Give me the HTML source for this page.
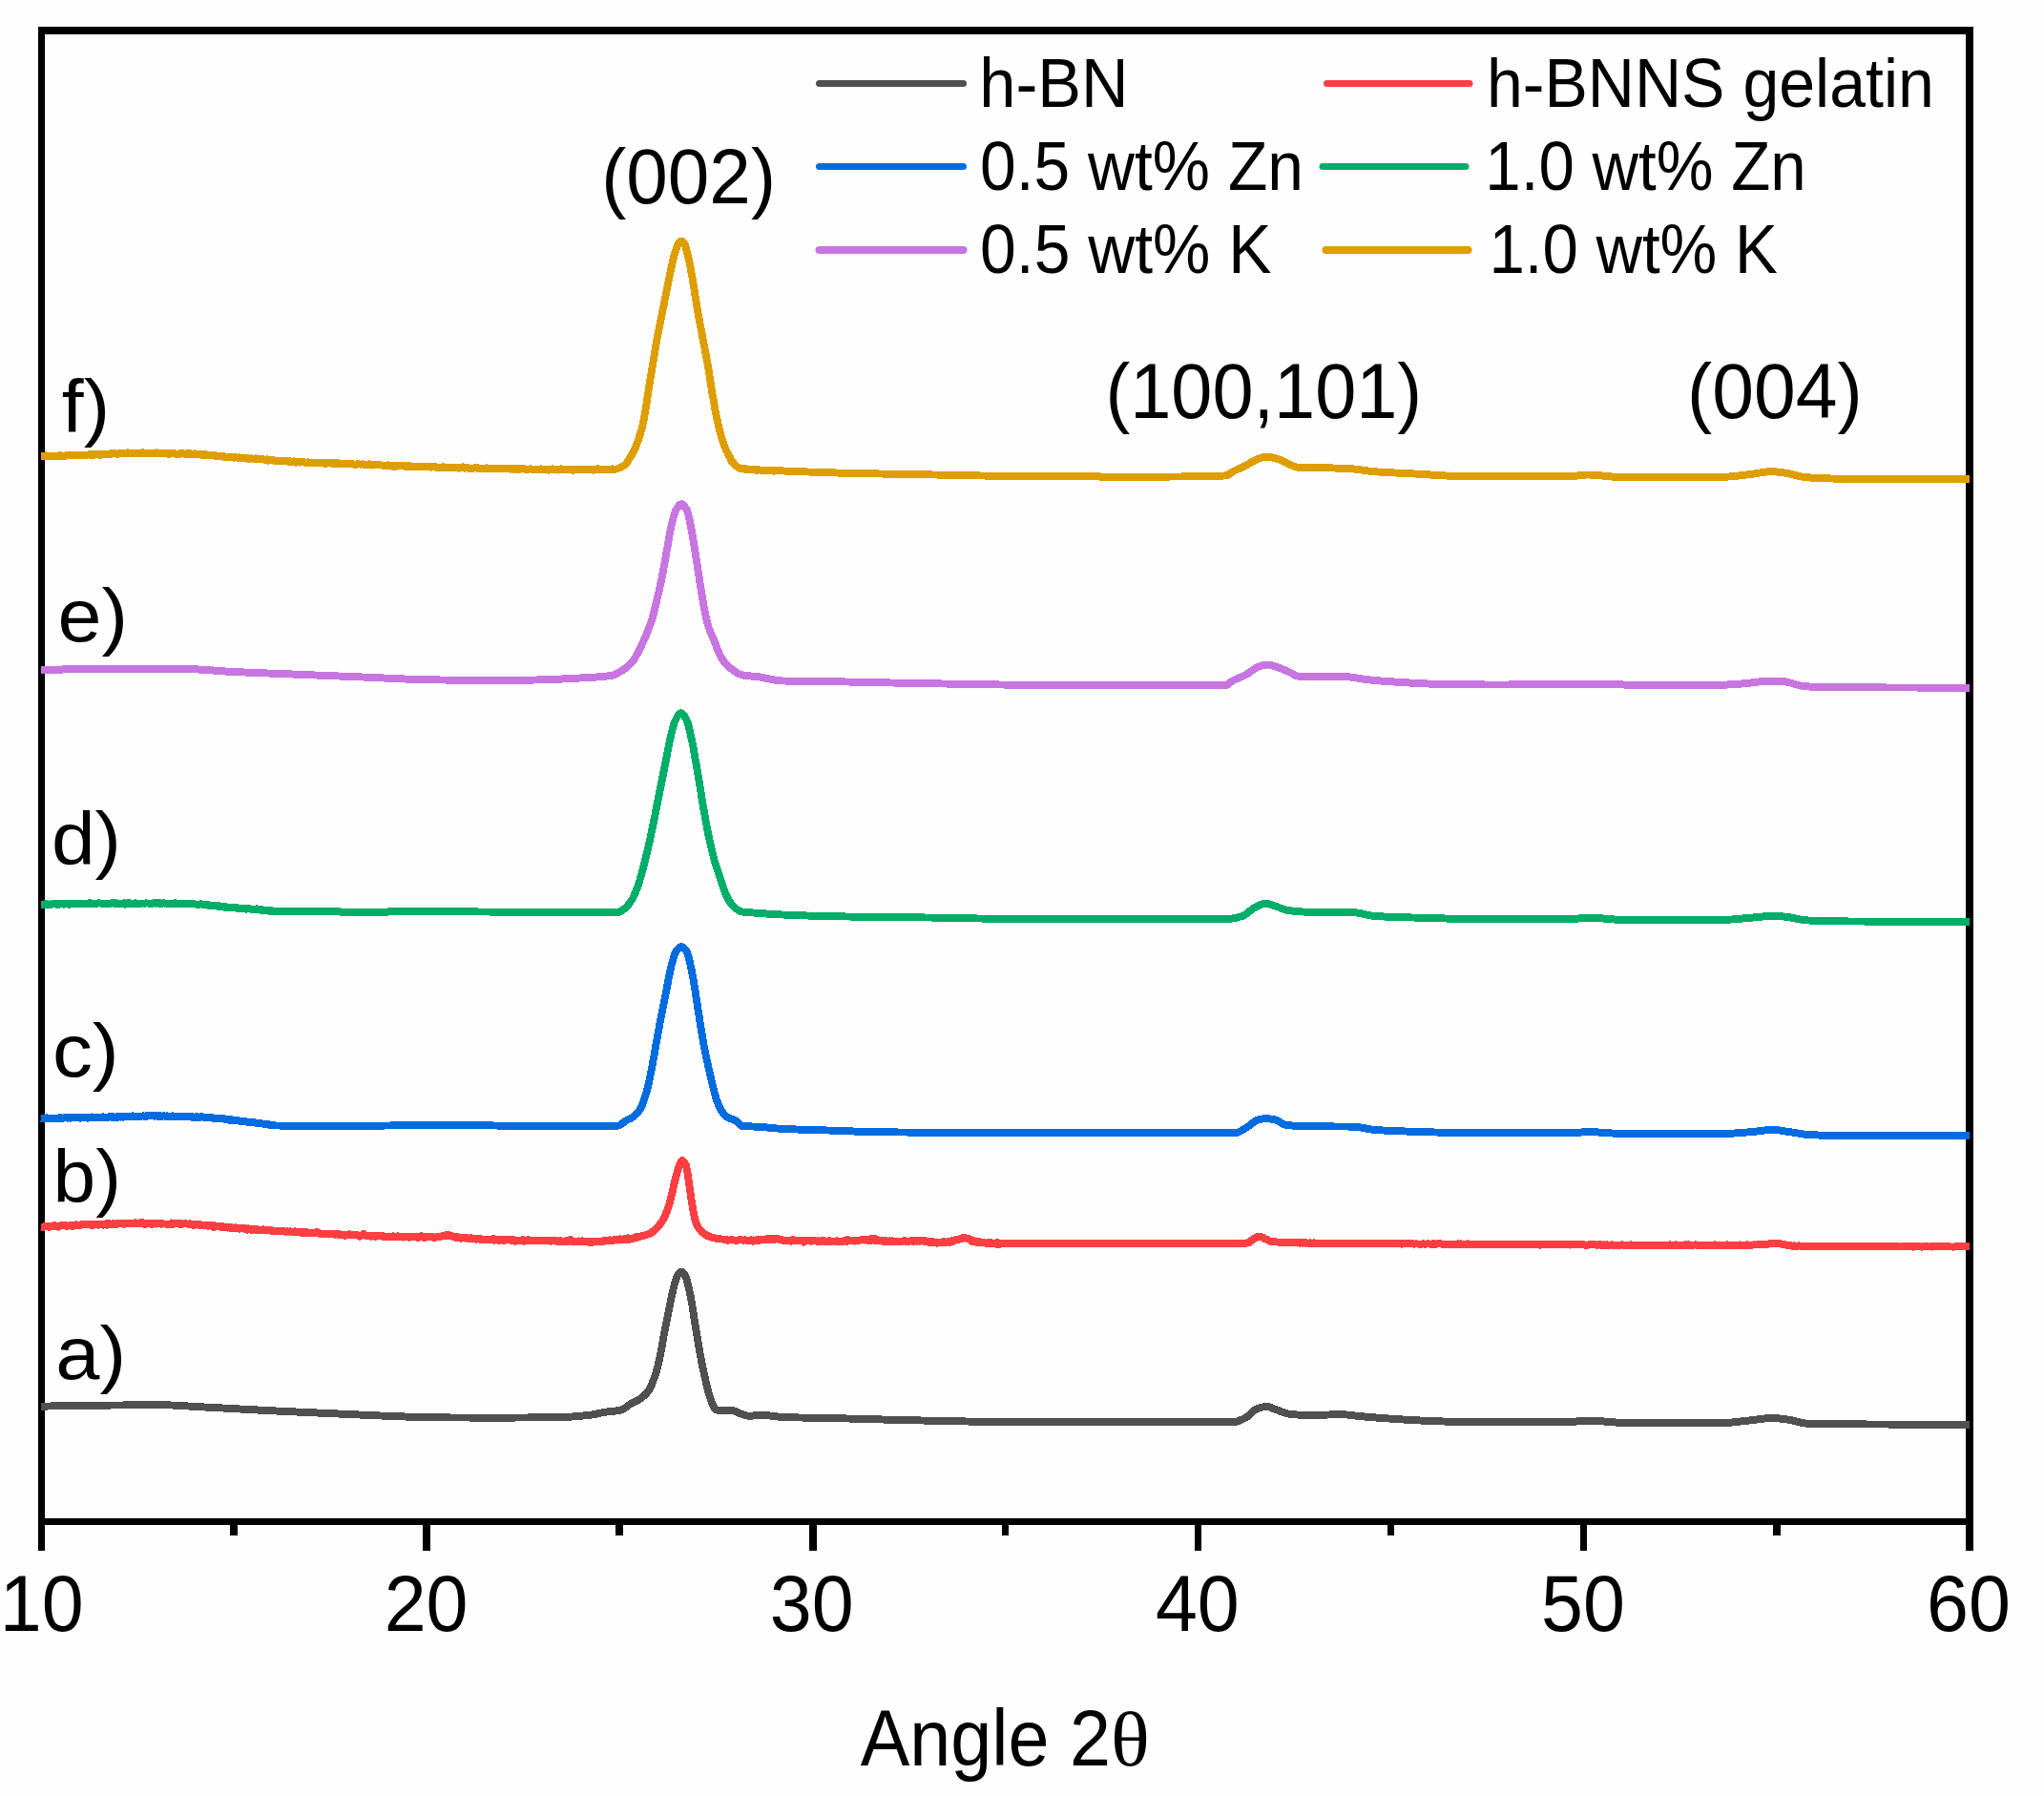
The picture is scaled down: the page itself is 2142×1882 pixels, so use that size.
<!DOCTYPE html>
<html lang="en"><head><meta charset="utf-8"><title>XRD patterns</title>
<style>html,body{margin:0;padding:0;background:#fefefe}body{width:2142px;height:1882px;overflow:hidden}svg{display:block}text{font-family:"Liberation Sans",sans-serif;fill:#000}.sym{font-family:"Liberation Serif",serif}</style></head><body>
<svg width="2142" height="1882" viewBox="0 0 2142 1882">
<rect x="0" y="0" width="2142" height="1882" fill="#fefefe"/>
<g fill="#000">
<rect x="40" y="28" width="7" height="1597"/>
<rect x="2060" y="28" width="8" height="1597"/>
<rect x="40" y="28" width="2028" height="8"/>
<rect x="40" y="1591" width="2028" height="7"/>
<rect x="443" y="1598" width="8" height="27"/>
<rect x="848" y="1598" width="8" height="27"/>
<rect x="1252" y="1598" width="7" height="27"/>
<rect x="1656" y="1598" width="7" height="27"/>
<rect x="241" y="1598" width="8" height="11"/>
<rect x="645" y="1598" width="8" height="11"/>
<rect x="1050" y="1598" width="7" height="11"/>
<rect x="1454" y="1598" width="7" height="11"/>
<rect x="1858" y="1598" width="8" height="11"/>
</g>
<g fill="none" stroke-width="7.9" stroke-linejoin="round" stroke-linecap="butt" shape-rendering="crispEdges">
<path stroke="#505050" d="M43,1473.6l1,0 1,0 1,0 1,0 1,0 1,0 1,-.1 1,0 1,0 1,0 1,-.1 1,0 1,0 1,0 1,0 1,-.1 1,0 1,0 1,0 1,0 1,-.1 1,0 1,0 1,0 1,0 1,-.1 1,0 1,0 1,0 1,0 1,0 1,-.1 1,0 1,0 1,0 1,0 1,-.1 1,0 1,0 1,0 1,0 1,0 1,0 1,-.1 1,0 1,0 1,0 1,0 1,0 1,0 1,-.1 1,0 1,0 1,0 1,0 1,0 1,0 1,0 1,0 1,-.1 1,0 1,0 1,0 1,0 1,0 1,0 1,0 1,0 1,0 1,0 1,0 1,0 1,-.1 1,0 1,0 1,0 1,0 1,0 1,0 1,0 1,0 1,0 1,0 1,0 1,0 1,0 1,-.1 1,0 1,0 1,0 1,0 1,0 1,0 1,0 1,0 1,0 1,0 1,0 1,0 1,0 1,0 1,0 1,0 1,0 1,-.1 1,0 1,0 1,0 1,0 1,0 1,0 1,0 1,0 1,0 1,0 1,0 1,0 1,0 1,0 1,0 1,0 1,0 1,0 1,0 1,0 1,0 1,0 1,0 1,0 1,0 1,0 1,.1 1,0 1,0 1,0 1,.1 1,0 1,0 1,.1 1,0 1,.1 1,0 1,.1 1,0 1,.1 1,0 1,.1 1,.1 1,0 1,.1 1,.1 1,0 1,.1 1,.1 1,0 1,.1 1,0 1,.1 1,.1 1,0 1,.1 1,.1 1,0 1,.1 1,0 1,.1 1,0 1,.1 1,.1 1,0 1,.1 1,0 1,.1 1,0 1,.1 1,0 1,.1 1,0 1,.1 1,0 1,.1 1,0 1,.1 1,0 1,.1 1,.1 1,0 1,.1 1,0 1,.1 1,0 1,.1 1,0 1,.1 1,.1 1,0 1,.1 1,0 1,.1 1,0 1,.1 1,0 1,.1 1,0 1,.1 1,.1 1,0 1,.1 1,0 1,.1 1,0 1,.1 1,0 1,.1 1,.1 1,0 1,.1 1,0 1,.1 1,0 1,.1 1,0 1,.1 1,0 1,.1 1,0 1,.1 1,.1 1,0 1,.1 1,0 1,.1 1,0 1,.1 1,0 1,.1 1,0 1,.1 1,0 1,.1 1,0 1,.1 1,0 1,.1 1,0 1,.1 1,0 1,.1 1,0 1,.1 1,0 1,0 1,.1 1,0 1,.1 1,0 1,.1 1,0 1,.1 1,0 1,.1 1,0 1,.1 1,0 1,.1 1,0 1,.1 1,0 1,.1 1,0 1,0 1,.1 1,0 1,.1 1,0 1,.1 1,0 1,.1 1,0 1,.1 1,0 1,0 1,.1 1,0 1,.1 1,0 1,.1 1,0 1,.1 1,0 1,.1 1,0 1,0 1,.1 1,0 1,.1 1,0 1,.1 1,0 1,.1 1,0 1,.1 1,0 1,0 1,.1 1,0 1,.1 1,0 1,.1 1,0 1,.1 1,0 1,.1 1,0 1,0 1,.1 1,0 1,.1 1,0 1,.1 1,0 1,.1 1,0 1,.1 1,0 1,.1 1,0 1,.1 1,0 1,0 1,.1 1,0 1,.1 1,0 1,.1 1,0 1,.1 1,0 1,.1 1,0 1,0 1,.1 1,0 1,.1 1,0 1,.1 1,0 1,.1 1,0 1,0 1,.1 1,0 1,.1 1,0 1,.1 1,0 1,0 1,.1 1,0 1,.1 1,0 1,0 1,.1 1,0 1,.1 1,0 1,0 1,.1 1,0 1,.1 1,0 1,0 1,.1 1,0 1,0 1,.1 1,0 1,.1 1,0 1,0 1,.1 1,0 1,.1 1,0 1,0 1,.1 1,0 1,.1 1,0 1,0 1,.1 1,0 1,0 1,.1 1,0 1,0 1,.1 1,0 1,0 1,.1 1,0 1,0 1,0 1,0 1,.1 1,0 1,0 1,0 1,0 1,0 1,0 1,0 1,0 1,0 1,.1 1,0 1,0 1,0 1,0 1,0 1,0 1,0 1,0 1,0 1,0 1,0 1,0 1,0 1,.1 1,0 1,0 1,0 1,0 1,0 1,0 1,0 1,0 1,0 1,0 1,0 1,0 1,0 1,0 1,0 1,0 1,0 1,0 1,0 1,0 1,.1 1,0 1,0 1,0 1,0 1,0 1,0 1,0 1,0 1,0 1,0 1,0 1,0 1,0 1,0 1,0 1,0 1,0 1,0 1,0 1,0 1,0 1,0 1,0 1,0 1,0 1,0 1,0 1,0 1,0 1,0 1,0 1,0 1,0 1,0 1,0 1,0 1,0 1,0 1,0 1,0 1,0 1,0 1,0 1,0 1,0 1,0 1,-.1 1,0 1,0 1,0 1,0 1,0 1,0 1,0 1,0 1,0 1,0 1,0 1,0 1,0 1,-.1 1,0 1,0 1,0 1,0 1,0 1,0 1,0 1,0 1,0 1,-.1 1,0 1,0 1,0 1,0 1,0 1,0 1,0 1,-.1 1,0 1,0 1,0 1,0 1,0 1,0 1,-.1 1,0 1,0 1,0 1,0 1,0 1,0 1,-.1 1,0 1,0 1,0 1,0 1,-.1 1,0 1,0 1,-.1 1,0 1,-.1 1,0 1,-.1 1,-.1 1,0 1,-.1 1,-.1 1,-.1 1,0 1,-.1 1,-.1 1,-.1 1,-.1 1,-.1 1,-.1 1,-.1 1,-.1 1,-.1 1,-.1 1,-.1 1,-.1 1,-.2 1,-.1 1,-.1 1,-.1 1,-.1 1,-.2 1,-.2 1,-.2 1,-.2 1,-.2 1,-.3 1,-.2 1,-.2 1,-.2 1,-.2 1,-.2 1,-.2 1,-.1 1,-.2 1,-.1 1,-.1 1,-.1 1,-.1 1,-.1 1,-.1 1,-.1 1,-.1 1,-.1 1,-.1 1,-.2 1,-.1 1,-.2 1,-.2 1,-.2 1,-.2 1,-.4 1,-.5 1,-.6 1,-.7 1,-.7 1,-.8 1,-.7 1,-.7 1,-.7 1,-.6 1,-.5 1,-.5 1,-.6 1,-.4 1,-.6 1,-.5 1,-.5 1,-.6 1,-.6 1,-.6 1,-.8 1,-.7 1,-.8 1,-.9 1,-1 1,-1 1,-1.1 1,-1.2 1,-1.4 1,-1.7 1,-2.1 1,-2.3 1,-2.6 1,-2.6 1,-2.7 1,-3 1,-3.2 1,-3.6 1,-4 1,-4.5 1,-4.9 1,-5.1 1,-5.5 1,-5.8 1,-5.6 1,-5.1 1,-5 1,-4.9 1,-5 1,-5.1 1,-5 1,-4.9 1,-4.7 1,-4.7 1,-4.3 1,-3.7 1,-3.3 1,-3 1,-2.3 1,-1.6 1,-1.2 1,-.9 1,-.4 1,.3 1,1 1,1.4 1,1.6 1,2.3 1,3.4 1,3.9 1,4 1,4.5 1,5 1,5.4 1,6.3 1,6.7 1,6.4 1,6 1,6 1,5.9 1,6.2 1,6.1 1,5.7 1,5.3 1,5 1,4.8 1,4.7 1,4.5 1,4.4 1,4.2 1,3.8 1,3.6 1,3.4 1,3.1 1,2.5 1,2.1 1,2 1,1.8 1,1.3 1,.5 1,0 1,0 1,.1 1,0 1,0 1,0 1,0 1,0 1,0 1,0 1,0 1,0 1,.1 1,0 1,0 1,0 1,.2 1,.2 1,.4 1,.5 1,.5 1,.6 1,.5 1,.4 1,.3 1,.3 1,.4 1,.3 1,.3 1,.3 1,.3 1,.2 1,.1 1,.1 1,0 1,0 1,-.1 1,-.1 1,-.1 1,-.1 1,-.1 1,-.2 1,-.1 1,-.1 1,0 1,-.1 1,0 1,.1 1,0 1,.1 1,0 1,.1 1,.1 1,.1 1,.2 1,.1 1,.1 1,.2 1,.1 1,.1 1,.2 1,.1 1,.1 1,.1 1,.1 1,.1 1,.1 1,.1 1,0 1,.1 1,0 1,0 1,.1 1,0 1,.1 1,0 1,0 1,0 1,.1 1,0 1,0 1,.1 1,0 1,0 1,0 1,.1 1,0 1,0 1,0 1,0 1,.1 1,0 1,0 1,0 1,0 1,.1 1,0 1,0 1,0 1,0 1,0 1,.1 1,0 1,0 1,0 1,0 1,0 1,.1 1,0 1,0 1,0 1,0 1,0 1,.1 1,0 1,0 1,0 1,0 1,0 1,.1 1,0 1,0 1,0 1,.1 1,0 1,0 1,0 1,0 1,.1 1,0 1,0 1,.1 1,0 1,0 1,0 1,.1 1,0 1,0 1,0 1,.1 1,0 1,0 1,0 1,.1 1,0 1,0 1,.1 1,0 1,0 1,0 1,.1 1,0 1,0 1,.1 1,0 1,0 1,0 1,.1 1,0 1,0 1,.1 1,0 1,0 1,0 1,.1 1,0 1,0 1,0 1,.1 1,0 1,0 1,0 1,.1 1,0 1,0 1,.1 1,0 1,0 1,0 1,0 1,.1 1,0 1,0 1,0 1,.1 1,0 1,0 1,0 1,.1 1,0 1,0 1,0 1,.1 1,0 1,0 1,0 1,.1 1,0 1,0 1,0 1,.1 1,0 1,0 1,0 1,.1 1,0 1,0 1,0 1,.1 1,0 1,0 1,0 1,0 1,.1 1,0 1,0 1,0 1,.1 1,0 1,0 1,0 1,0 1,.1 1,0 1,0 1,0 1,.1 1,0 1,0 1,0 1,0 1,.1 1,0 1,0 1,0 1,0 1,.1 1,0 1,0 1,0 1,0 1,.1 1,0 1,0 1,0 1,0 1,.1 1,0 1,0 1,0 1,0 1,.1 1,0 1,0 1,0 1,.1 1,0 1,0 1,0 1,0 1,.1 1,0 1,0 1,0 1,.1 1,0 1,0 1,0 1,0 1,.1 1,0 1,0 1,0 1,.1 1,0 1,0 1,0 1,0 1,.1 1,0 1,0 1,0 1,0 1,0 1,.1 1,0 1,0 1,0 1,0 1,.1 1,0 1,0 1,0 1,0 1,0 1,0 1,.1 1,0 1,0 1,0 1,0 1,0 1,0 1,0 1,0 1,.1 1,0 1,0 1,0 1,0 1,0 1,0 1,0 1,0 1,0 1,0 1,0 1,0 1,0 1,0 1,0 1,0 1,0 1,0 1,0 1,0 1,0 1,0 1,0 1,0 1,0 1,0 1,0 1,0 1,0 1,0 1,0 1,0 1,0 1,0 1,0 1,0 1,0 1,0 1,0 1,0 1,0 1,0 1,0 1,0 1,0 1,0 1,0 1,0 1,0 1,0 1,0 1,0 1,0 1,0 1,0 1,0 1,0 1,0 1,0 1,0 1,0 1,0 1,0 1,0 1,0 1,0 1,0 1,0 1,0 1,0 1,0 1,0 1,0 1,0 1,0 1,0 1,0 1,0 1,0 1,0 1,0 1,0 1,0 1,0 1,0 1,0 1,0 1,0 1,0 1,0 1,0 1,0 1,0 1,0 1,0 1,0 1,0 1,0 1,0 1,0 1,0 1,0 1,0 1,0 1,0 1,0 1,0 1,0 1,0 1,0 1,0 1,0 1,0 1,0 1,0 1,0 1,0 1,0 1,0 1,0 1,0 1,0 1,0 1,0 1,0 1,0 1,0 1,0 1,0 1,0 1,0 1,0 1,0 1,0 1,0 1,0 1,0 1,0 1,0 1,0 1,0 1,0 1,0 1,0 1,0 1,0 1,0 1,0 1,0 1,0 1,0 1,0 1,0 1,0 1,0 1,0 1,0 1,0 1,0 1,0 1,0 1,0 1,0 1,0 1,0 1,0 1,0 1,0 1,0 1,0 1,0 1,0 1,0 1,0 1,0 1,0 1,0 1,0 1,0 1,0 1,0 1,0 1,0 1,0 1,0 1,0 1,0 1,0 1,0 1,0 1,0 1,0 1,0 1,0 1,0 1,0 1,0 1,0 1,0 1,0 1,0 1,0 1,0 1,0 1,0 1,0 1,0 1,0 1,0 1,0 1,0 1,0 1,0 1,0 1,0 1,0 1,0 1,0 1,0 1,0 1,0 1,0 1,0 1,0 1,0 1,0 1,0 1,0 1,0 1,0 1,0 1,0 1,0 1,0 1,0 1,-.1 1,-.1 1,-.3 1,-.2 1,-.3 1,-.4 1,-.4 1,-.4 1,-.4 1,-.5 1,-.5 1,-.4 1,-.5 1,-.6 1,-.6 1,-.9 1,-.9 1,-.9 1,-1 1,-.9 1,-1 1,-.8 1,-.7 1,-.7 1,-.4 1,-.4 1,-.3 1,-.3 1,-.3 1,-.3 1,-.3 1,-.2 1,-.1 1,-.1 1,-.1 1,0 1,.2 1,.2 1,.3 1,.4 1,.4 1,.4 1,.4 1,.4 1,.4 1,.3 1,.4 1,.3 1,.4 1,.4 1,.3 1,.4 1,.4 1,.3 1,.4 1,.3 1,.3 1,.2 1,.2 1,.2 1,.1 1,.1 1,.1 1,0 1,.1 1,.1 1,.1 1,0 1,.1 1,.1 1,0 1,.1 1,0 1,0 1,.1 1,0 1,0 1,.1 1,0 1,0 1,0 1,0 1,0 1,0 1,0 1,0 1,-.1 1,0 1,0 1,0 1,-.1 1,0 1,0 1,-.1 1,0 1,0 1,-.1 1,0 1,-.1 1,0 1,0 1,-.1 1,0 1,0 1,-.1 1,0 1,0 1,0 1,-.1 1,0 1,0 1,0 1,0 1,0 1,0 1,.1 1,0 1,.1 1,.1 1,0 1,.2 1,.1 1,.1 1,.1 1,.1 1,.2 1,.1 1,.1 1,.1 1,.1 1,.2 1,.1 1,0 1,.1 1,.1 1,.1 1,.1 1,.1 1,.1 1,.1 1,0 1,.1 1,.1 1,.1 1,.1 1,.1 1,.1 1,0 1,.1 1,.1 1,.1 1,.1 1,0 1,.1 1,.1 1,.1 1,.1 1,0 1,.1 1,.1 1,0 1,.1 1,.1 1,0 1,.1 1,.1 1,0 1,.1 1,.1 1,0 1,.1 1,.1 1,0 1,.1 1,.1 1,0 1,.1 1,.1 1,0 1,.1 1,0 1,.1 1,.1 1,0 1,.1 1,0 1,.1 1,.1 1,0 1,.1 1,0 1,.1 1,0 1,.1 1,0 1,.1 1,0 1,.1 1,0 1,.1 1,0 1,.1 1,0 1,0 1,.1 1,0 1,.1 1,0 1,0 1,.1 1,0 1,0 1,.1 1,0 1,.1 1,0 1,0 1,.1 1,0 1,.1 1,0 1,0 1,.1 1,0 1,0 1,.1 1,0 1,0 1,.1 1,0 1,0 1,.1 1,0 1,0 1,.1 1,0 1,0 1,0 1,.1 1,0 1,0 1,0 1,.1 1,0 1,0 1,0 1,0 1,0 1,.1 1,0 1,0 1,0 1,0 1,0 1,0 1,0 1,0 1,0 1,0 1,0 1,0 1,0 1,0 1,0 1,0 1,0 1,0 1,0 1,0 1,0 1,0 1,0 1,0 1,0 1,0 1,0 1,0 1,0 1,0 1,0 1,0 1,0 1,0 1,0 1,0 1,0 1,0 1,0 1,0 1,0 1,0 1,0 1,0 1,0 1,0 1,0 1,0 1,0 1,0 1,-.1 1,0 1,0 1,0 1,0 1,0 1,0 1,0 1,0 1,0 1,0 1,0 1,0 1,0 1,0 1,0 1,0 1,0 1,0 1,0 1,0 1,0 1,0 1,0 1,0 1,0 1,0 1,0 1,-.1 1,0 1,0 1,0 1,0 1,0 1,0 1,0 1,0 1,0 1,0 1,0 1,0 1,0 1,0 1,0 1,0 1,-.1 1,0 1,0 1,0 1,0 1,0 1,0 1,0 1,0 1,-.1 1,0 1,-.1 1,-.1 1,0 1,-.1 1,-.1 1,-.1 1,-.1 1,-.1 1,-.1 1,-.1 1,-.1 1,-.1 1,-.1 1,0 1,-.1 1,0 1,0 1,0 1,0 1,0 1,.1 1,0 1,0 1,.1 1,0 1,.1 1,.1 1,0 1,.1 1,.1 1,0 1,.1 1,.1 1,.1 1,.1 1,.1 1,0 1,.1 1,.1 1,.1 1,.1 1,.1 1,.1 1,0 1,.1 1,.1 1,.1 1,0 1,.1 1,0 1,.1 1,0 1,.1 1,0 1,.1 1,0 1,0 1,0 1,0 1,0 1,0 1,0 1,0 1,0 1,0 1,0 1,0 1,0 1,0 1,0 1,0 1,0 1,0 1,0 1,0 1,0 1,0 1,0 1,0 1,0 1,0 1,0 1,0 1,0 1,0 1,0 1,0 1,0 1,0 1,0 1,0 1,0 1,0 1,0 1,0 1,0 1,0 1,0 1,0 1,0 1,0 1,0 1,0 1,0 1,0 1,0 1,0 1,0 1,0 1,0 1,0 1,0 1,0 1,0 1,0 1,0 1,0 1,0 1,0 1,0 1,0 1,0 1,0 1,0 1,0 1,0 1,0 1,0 1,0 1,0 1,0 1,0 1,0 1,0 1,0 1,0 1,0 1,0 1,0 1,0 1,0 1,0 1,0 1,0 1,0 1,0 1,0 1,0 1,0 1,0 1,0 1,0 1,0 1,0 1,0 1,0 1,0 1,0 1,0 1,0 1,-.1 1,0 1,0 1,-.1 1,-.1 1,0 1,-.1 1,-.1 1,-.1 1,-.1 1,-.1 1,-.1 1,-.1 1,-.1 1,-.2 1,-.1 1,-.1 1,-.1 1,-.1 1,-.2 1,-.1 1,-.1 1,-.1 1,-.1 1,-.1 1,-.1 1,-.2 1,-.1 1,0 1,-.2 1,-.1 1,-.1 1,-.1 1,-.1 1,-.2 1,-.1 1,-.1 1,-.2 1,-.1 1,-.1 1,-.1 1,-.1 1,-.2 1,-.1 1,0 1,-.1 1,-.1 1,0 1,-.1 1,0 1,0 1,0 1,.1 1,0 1,.1 1,.1 1,.1 1,.1 1,.1 1,.1 1,.1 1,.2 1,.1 1,.1 1,.2 1,.1 1,.1 1,.2 1,.2 1,.2 1,.2 1,.3 1,.2 1,.3 1,.2 1,.3 1,.2 1,.3 1,.2 1,.3 1,.2 1,.2 1,.1 1,.2 1,.1 1,.1 1,0 1,.1 1,0 1,0 1,.1 1,0 1,0 1,.1 1,0 1,0 1,0 1,.1 1,0 1,0 1,0 1,.1 1,0 1,0 1,0 1,0 1,0 1,.1 1,0 1,0 1,0 1,0 1,0 1,0 1,.1 1,0 1,0 1,0 1,0 1,0 1,0 1,0 1,0 1,0 1,0 1,0 1,0 1,0 1,0 1,.1 1,0 1,0 1,0 1,0 1,0 1,0 1,0 1,0 1,0 1,0 1,0 1,0 1,0 1,0 1,0 1,0 1,0 1,0 1,.1 1,0 1,0 1,0 1,0 1,0 1,0 1,0 1,0 1,0 1,0 1,0 1,0 1,0 1,0 1,0 1,0 1,0 1,0 1,0 1,0 1,0 1,0 1,0 1,.1 1,0 1,0 1,0 1,0 1,0 1,0 1,0 1,0 1,0 1,0 1,0 1,0 1,0 1,0 1,0 1,0 1,0 1,0 1,0 1,0 1,0 1,0 1,0 1,0 1,0 1,0 1,0 1,0 1,0 1,0 1,0 1,0 1,0 1,0 1,.1 1,0 1,0 1,0 1,0 1,0 1,0 1,0 1,0 1,0 1,0 1,0 1,0 1,0 1,0 1,0 1,0 1,0 1,0 1,0 1,0 1,0 1,0 1,0 1,0 1,0 1,0 1,0 1,0 1,0 1,0 1,0 1,0 1,0 1,0 1,0 1,0 1,0 1,0 1,0 1,0 1,0 1,0 1,0 1,0 1,0 1,0 1,0 1,0 1,0"/>
<path stroke="#ff3e42" d="M43,1285.5l1,0 1,.5 1,-.8 1,.2 1,0 1,.2 1,-.9 1,1 1,.1 1,-1.1 1,-.2 1,.7 1,-.5 1,-.8 1,1.3 1,-.3 1,-.3 1,1 1,-.9 1,-.4 1,.3 1,-.5 1,.1 1,.4 1,-.4 1,-.1 1,.9 1,-.4 1,-.1 1,-.1 1,-.1 1,.4 1,-.7 1,.7 1,-1.2 1,.3 1,-.5 1,.4 1,.3 1,.3 1,-.9 1,.2 1,-.2 1,-.2 1,-.2 1,.5 1,-.8 1,.8 1,-.1 1,-.3 1,-.2 1,-.2 1,1.3 1,-1.4 1,1.2 1,-.4 1,-.5 1,-.3 1,.9 1,.2 1,-1.2 1,.3 1,.5 1,-.3 1,.6 1,-1.1 1,.4 1,-.7 1,1.3 1,-1.2 1,-.6 1,.8 1,0 1,.8 1,-1 1,.1 1,.2 1,.4 1,-.7 1,.4 1,-.2 1,-.4 1,.2 1,-.1 1,-.4 1,.9 1,-1.1 1,1 1,-.1 1,-.5 1,-.3 1,.3 1,.2 1,.1 1,-.2 1,.3 1,-.6 1,.3 1,-.8 1,1 1,-.2 1,-.3 1,.7 1,-.2 1,-1.5 1,1.2 1,-.6 1,1.1 1,.6 1,-1.3 1,.3 1,-.2 1,.3 1,.1 1,.3 1,-.9 1,1.1 1,-1.1 1,.5 1,.4 1,-.2 1,-.6 1,.1 1,.1 1,.2 1,.5 1,-1 1,.7 1,.1 1,0 1,0 1,.4 1,-.4 1,.2 1,-.1 1,.5 1,-1.5 1,1.4 1,-.7 1,0 1,-.2 1,-.4 1,.7 1,-.1 1,.5 1,-.8 1,1.2 1,-.5 1,-.2 1,-.1 1,0 1,-.1 1,.2 1,.3 1,0 1,-.5 1,.5 1,-.2 1,.5 1,.8 1,-.5 1,-.3 1,-.5 1,.1 1,0 1,1.1 1,-.6 1,.5 1,-.2 1,.4 1,.6 1,-.8 1,.2 1,-.1 1,.8 1,-.7 1,.1 1,0 1,.1 1,.8 1,1 1,-1.4 1,.9 1,-.2 1,-.4 1,.4 1,.1 1,-.1 1,1.2 1,-1.5 1,1.1 1,.1 1,-.3 1,.4 1,.4 1,-.3 1,.2 1,.2 1,-1 1,1.5 1,.4 1,-.4 1,.1 1,-1 1,.6 1,-.2 1,.2 1,.7 1,-.7 1,.4 1,-.7 1,.8 1,.2 1,-.3 1,.1 1,1.2 1,-1.3 1,.2 1,.1 1,.9 1,.5 1,-.7 1,-.3 1,.1 1,.7 1,-.7 1,1 1,.1 1,-.5 1,.3 1,.1 1,.4 1,-1 1,1 1,-.6 1,-.1 1,.4 1,0 1,-.3 1,-.2 1,.4 1,1 1,.3 1,-.5 1,.3 1,-.6 1,.2 1,.2 1,-.5 1,.1 1,.5 1,-.1 1,-.2 1,.7 1,-.3 1,.6 1,-.3 1,-.1 1,.3 1,-.1 1,-.2 1,.2 1,.6 1,0 1,.3 1,-1.2 1,.6 1,.1 1,.3 1,-.2 1,0 1,.6 1,-.2 1,-.5 1,1.1 1,-.1 1,-.6 1,.6 1,-.6 1,.9 1,-.5 1,-.2 1,.2 1,-.1 1,.5 1,0 1,0 1,-.2 1,-1.2 1,1.6 1,-.8 1,1 1,.4 1,-.3 1,-.2 1,.1 1,.1 1,-.2 1,.1 1,-.1 1,.9 1,-.4 1,.4 1,-.4 1,.2 1,-.1 1,.3 1,.2 1,-.2 1,-.3 1,0 1,1.1 1,-.8 1,.1 1,.7 1,-.1 1,-.2 1,-.3 1,1.2 1,-.8 1,.1 1,-.2 1,-.5 1,.1 1,.8 1,0 1,-.2 1,-.4 1,0 1,.5 1,-.5 1,1.1 1,.1 1,.8 1,-.8 1,-.6 1,-.1 1,-1 1,1.2 1,.2 1,.6 1,-.1 1,0 1,-.1 1,.2 1,.4 1,-1 1,.3 1,-.4 1,1.3 1,-.1 1,-.1 1,-.8 1,.6 1,-.1 1,.1 1,0 1,.3 1,-.3 1,.5 1,-.2 1,-.1 1,.1 1,-.1 1,.5 1,-.4 1,.3 1,-.3 1,-.4 1,1.1 1,-.8 1,.7 1,0 1,-.9 1,.4 1,.2 1,-.1 1,-.2 1,.9 1,-.4 1,.3 1,-.4 1,.4 1,-.5 1,.4 1,.2 1,-.2 1,-.2 1,-.3 1,.6 1,0 1,-.2 1,-.2 1,.5 1,.8 1,-1.1 1,.2 1,0 1,-1.2 1,1.1 1,-.3 1,.8 1,-.7 1,-.2 1,.2 1,.2 1,-.4 1,.2 1,-.5 1,.4 1,.4 1,.5 1,-.5 1,-.3 1,.3 1,-.2 1,.1 1,-.4 1,-.6 1,0 1,-.1 1,-.1 1,-.1 1,-.5 1,-.6 1,.6 1,-.5 1,1 1,.1 1,-.5 1,1.1 1,.3 1,-.1 1,.8 1,.3 1,-1 1,1.1 1,-.1 1,.2 1,.4 1,-.6 1,.1 1,0 1,.1 1,.3 1,-.5 1,.3 1,.7 1,-.2 1,.2 1,-.9 1,.5 1,.2 1,.3 1,-.2 1,.7 1,-.4 1,.1 1,0 1,.4 1,-.5 1,.7 1,-.2 1,-.1 1,0 1,.2 1,.3 1,0 1,-.2 1,.2 1,-.2 1,.5 1,-.5 1,-.9 1,1.5 1,-.5 1,-.5 1,.5 1,-.3 1,1.3 1,-.7 1,-.8 1,.9 1,-.3 1,1 1,-1.3 1,-.4 1,1 1,-.2 1,0 1,-.7 1,1.1 1,.5 1,-1.4 1,1.3 1,-.7 1,1.2 1,-.8 1,-.2 1,.6 1,-.3 1,-.4 1,.6 1,-.5 1,-.6 1,1.7 1,-1 1,-.1 1,.4 1,-.8 1,.1 1,.4 1,0 1,.3 1,.4 1,-.6 1,.4 1,.1 1,-.7 1,.5 1,-.4 1,.8 1,-.2 1,-.2 1,-.6 1,.7 1,-.4 1,.6 1,-.3 1,-.3 1,.7 1,0 1,-.6 1,.8 1,-.6 1,0 1,.2 1,-.4 1,.1 1,.2 1,.7 1,0 1,-.7 1,.8 1,-.7 1,.2 1,.2 1,-.2 1,.9 1,-.9 1,-.6 1,1.1 1,-.8 1,.1 1,-1.1 1,1.7 1,-.1 1,.1 1,.1 1,.3 1,-.7 1,.5 1,-.7 1,.2 1,.7 1,-.2 1,-.7 1,.8 1,-.2 1,-.2 1,.6 1,-.3 1,-.5 1,.2 1,1.3 1,-1.4 1,.7 1,.2 1,0 1,-.8 1,.3 1,.1 1,.2 1,-.6 1,-.3 1,.8 1,0 1,-.5 1,-.5 1,.4 1,-.3 1,.2 1,-.9 1,.4 1,-.2 1,-.5 1,.5 1,-.1 1,-.3 1,.2 1,-.8 1,.5 1,.1 1,-.2 1,.3 1,-1.1 1,-.2 1,.7 1,-.1 1,.6 1,-.7 1,-.7 1,.6 1,-.9 1,-.4 1,1.6 1,-1.1 1,0 1,-.2 1,.3 1,-.8 1,.2 1,-1.2 1,-.4 1,1 1,-.3 1,-.6 1,-.4 1,-.3 1,-.4 1,.2 1,-.5 1,-.3 1,-.3 1,-.2 1,-.4 1,-.4 1,-.7 1,-.3 1,-.3 1,-1.1 1,-.7 1,-.7 1,-.9 1,-1 1,-1.3 1,-.8 1,-1.5 1,-1.3 1,-1.2 1,-1.7 1,-1.6 1,-1.5 1,-2.6 1,-2.3 1,-2.8 1,-2.7 1,-3.1 1,-3.3 1,-3.7 1,-3.9 1,-4.4 1,-4.6 1,-4.2 1,-4.1 1,-3.5 1,-3.8 1,-3.3 1,-2.8 1,-2.5 1,-1.7 1,-1 1,1 1,1 1,1.4 1,1.9 1,5 1,5.6 1,7.2 1,7.4 1,7.1 1,6.6 1,6.4 1,5 1,5.2 1,3.6 1,2.4 1,2.2 1,1.4 1,1.9 1,.8 1,1.5 1,.5 1,1.2 1,.5 1,.7 1,.8 1,.6 1,.1 1,.8 1,0 1,.5 1,.3 1,.3 1,-.1 1,.8 1,0 1,0 1,.1 1,.1 1,.2 1,.5 1,0 1,0 1,.2 1,.5 1,-.3 1,0 1,.9 1,-.2 1,-.1 1,-.3 1,-.3 1,.2 1,.3 1,.1 1,.3 1,.1 1,-.1 1,0 1,-.5 1,-.4 1,.7 1,-.2 1,.1 1,.2 1,-.4 1,.1 1,.4 1,.1 1,-.3 1,.5 1,-.3 1,-.4 1,.5 1,.7 1,-1.1 1,.7 1,0 1,0 1,-1 1,1.1 1,-.9 1,-.3 1,-.1 1,.3 1,-.3 1,-.2 1,.5 1,-.9 1,-.3 1,.7 1,-.1 1,.1 1,-.9 1,.8 1,-.3 1,.5 1,-1.2 1,.6 1,-.1 1,-.5 1,.6 1,.9 1,-.5 1,.1 1,.9 1,.2 1,.2 1,-.6 1,.4 1,.5 1,-.7 1,0 1,.7 1,.3 1,-1.1 1,-.6 1,.5 1,.2 1,.4 1,.4 1,-.3 1,-.2 1,.3 1,-.4 1,.4 1,-.2 1,1.4 1,-.8 1,-.7 1,0 1,.2 1,-.5 1,.4 1,0 1,.7 1,-.5 1,-.2 1,-.2 1,.1 1,.5 1,-.1 1,.6 1,-.7 1,.7 1,-.3 1,-.2 1,-.8 1,.3 1,.9 1,.3 1,-.5 1,.2 1,-.5 1,0 1,-.1 1,.7 1,-.3 1,-.2 1,0 1,.3 1,-.1 1,-.4 1,1 1,-.6 1,-.1 1,.6 1,-.2 1,-.5 1,.2 1,-.7 1,.1 1,-.7 1,1.4 1,-1.3 1,1 1,-.7 1,-.1 1,.3 1,.1 1,.1 1,.4 1,-.6 1,.2 1,-.7 1,.5 1,-.3 1,-.3 1,.1 1,-.1 1,.1 1,.1 1,-.5 1,-.1 1,.6 1,-1.1 1,.5 1,.9 1,-1.8 1,.8 1,.6 1,-1 1,1.9 1,-2.1 1,1.8 1,.2 1,-.2 1,-.3 1,.4 1,-.4 1,.9 1,-.7 1,.5 1,.7 1,-.8 1,.4 1,.3 1,-.7 1,1.1 1,-.4 1,-.8 1,.6 1,-.3 1,0 1,.3 1,-.3 1,.6 1,-.7 1,.7 1,-.5 1,.3 1,-.6 1,0 1,-.3 1,.7 1,.1 1,.4 1,-.3 1,-.5 1,-.2 1,.2 1,-.2 1,.6 1,-.3 1,-.7 1,0 1,.9 1,-.5 1,-.2 1,.6 1,-.6 1,.2 1,0 1,-.5 1,1.3 1,-.7 1,.4 1,.1 1,.8 1,-.2 1,.2 1,-.6 1,.7 1,-.5 1,.8 1,.1 1,-.2 1,.8 1,-.6 1,0 1,-.3 1,-.1 1,.4 1,0 1,-1.1 1,.9 1,-.3 1,.1 1,-.3 1,-.8 1,0 1,1.1 1,-.7 1,-.9 1,.6 1,-.6 1,-.9 1,-.5 1,-.1 1,.5 1,-.5 1,-.4 1,0 1,-.1 1,-1.3 1,.7 1,-.2 1,-.1 1,.5 1,.4 1,.3 1,-.2 1,.8 1,1.5 1,-.9 1,.1 1,1.2 1,.4 1,.2 1,-.5 1,1 1,-.6 1,-.1 1,.3 1,.3 1,.4 1,.1 1,-.2 1,.5 1,-.3 1,.4 1,-.9 1,0 1,1 1,-.8 1,.5 1,.1 1,-.1 1,0 1,.8 1,-1.6 1,1.5 1,.6 1,-1 1,0 1,.1 1,.2 1,-.5 1,.2 1,0 1,.1 1,-.1 1,.1 1,-.2 1,.1 1,-.1 1,0 1,.1 1,0 1,-.2 1,.5 1,-.3 1,-.2 1,.4 1,-.3 1,.2 1,-.1 1,0 1,0 1,-.1 1,.1 1,.3 1,-.7 1,.4 1,.1 1,-.3 1,0 1,.6 1,-.5 1,.4 1,-.2 1,-.1 1,.1 1,0 1,.1 1,-.1 1,-.1 1,0 1,.2 1,-.1 1,-.3 1,.1 1,.2 1,-.2 1,0 1,-.1 1,.2 1,.1 1,.1 1,-.2 1,.3 1,-.3 1,.5 1,-.3 1,-.1 1,-.2 1,-.4 1,.5 1,0 1,.3 1,-.5 1,.5 1,-.3 1,.1 1,-.5 1,.4 1,-.1 1,.2 1,-.1 1,-.2 1,.4 1,-.1 1,0 1,.1 1,0 1,-.2 1,-.2 1,0 1,.4 1,-.1 1,-.1 1,-.1 1,.1 1,0 1,-.1 1,0 1,.5 1,-.4 1,-.1 1,-.1 1,.1 1,.2 1,0 1,-.1 1,0 1,-.1 1,-.1 1,.4 1,-.1 1,.3 1,-.5 1,.1 1,.1 1,-.1 1,-.2 1,0 1,.2 1,.1 1,-.1 1,.2 1,0 1,-.1 1,-.1 1,0 1,.1 1,.1 1,-.2 1,.1 1,-.2 1,-.1 1,0 1,.3 1,0 1,.2 1,-.3 1,.1 1,.1 1,0 1,-.3 1,.1 1,0 1,-.2 1,.3 1,.1 1,-.3 1,.4 1,-.3 1,0 1,0 1,-.1 1,.2 1,-.1 1,.3 1,-.2 1,0 1,-.1 1,-.2 1,.2 1,-.1 1,.3 1,-.2 1,.3 1,-.2 1,0 1,-.1 1,0 1,.1 1,.1 1,-.3 1,.2 1,.3 1,-.4 1,0 1,-.1 1,-.1 1,.4 1,-.2 1,.1 1,.2 1,.1 1,-.5 1,.3 1,-.1 1,0 1,0 1,-.1 1,.3 1,-.2 1,0 1,.1 1,0 1,-.1 1,0 1,.2 1,-.2 1,-.1 1,-.1 1,0 1,-.1 1,.2 1,0 1,-.3 1,.3 1,.1 1,-.1 1,-.2 1,.4 1,-.3 1,-.1 1,0 1,.2 1,.2 1,0 1,-.2 1,-.2 1,.1 1,-.1 1,.2 1,-.3 1,.3 1,.1 1,-.1 1,.1 1,-.3 1,0 1,.1 1,.3 1,0 1,-.3 1,.3 1,-.3 1,.4 1,-.2 1,-.2 1,.2 1,-.2 1,-.1 1,0 1,.2 1,0 1,0 1,-.1 1,.3 1,-.3 1,0 1,.3 1,0 1,-.1 1,-.4 1,.2 1,.2 1,-.1 1,.3 1,-.5 1,.3 1,-.2 1,.3 1,-.2 1,.2 1,-.3 1,-.1 1,-.1 1,-.2 1,-.5 1,-.1 1,-.7 1,-.8 1,-1 1,-.6 1,-.8 1,-.3 1,-.8 1,-.4 1,-.6 1,-.4 1,.2 1,.1 1,.5 1,.4 1,.3 1,.6 1,.9 1,.1 1,.6 1,.6 1,.4 1,.4 1,.4 1,.3 1,-.4 1,.3 1,.1 1,.1 1,.1 1,0 1,.3 1,-.2 1,.2 1,0 1,.1 1,0 1,.3 1,-.2 1,.1 1,0 1,-.1 1,0 1,0 1,.3 1,-.2 1,0 1,.2 1,.1 1,-.4 1,.6 1,-.2 1,0 1,.2 1,-.2 1,-.1 1,.5 1,-.5 1,.1 1,.2 1,-.3 1,.2 1,.1 1,.3 1,-.5 1,.1 1,.2 1,-.1 1,-.2 1,.2 1,0 1,.1 1,.1 1,0 1,-.1 1,0 1,-.2 1,.1 1,.1 1,-.1 1,.1 1,-.2 1,.4 1,.2 1,-.5 1,.2 1,-.1 1,.2 1,-.1 1,-.1 1,0 1,.1 1,-.2 1,.3 1,-.3 1,.3 1,-.1 1,.2 1,-.2 1,.2 1,-.4 1,.3 1,-.1 1,0 1,0 1,.2 1,-.5 1,.4 1,-.3 1,.4 1,-.5 1,.2 1,-.1 1,.5 1,-.4 1,.2 1,-.1 1,-.2 1,.2 1,.2 1,-.1 1,.2 1,-.2 1,0 1,0 1,.1 1,.3 1,-.3 1,0 1,-.1 1,0 1,.3 1,-.4 1,.1 1,.1 1,0 1,.4 1,-.7 1,.4 1,.1 1,-.3 1,.1 1,.2 1,.2 1,-.4 1,-.1 1,.4 1,.1 1,-.3 1,-.3 1,.6 1,-.2 1,.2 1,-.2 1,0 1,0 1,.3 1,0 1,-.6 1,.2 1,.5 1,-.4 1,-.1 1,.2 1,0 1,0 1,0 1,0 1,0 1,.1 1,-.2 1,.1 1,.1 1,.2 1,-.1 1,-.1 1,.1 1,0 1,.1 1,-.1 1,.2 1,0 1,-.3 1,0 1,.2 1,0 1,-.1 1,-.3 1,0 1,.4 1,0 1,0 1,-.3 1,.4 1,-.3 1,.2 1,0 1,-.2 1,0 1,-.2 1,.2 1,-.1 1,.3 1,0 1,.1 1,-.1 1,-.1 1,.2 1,-.2 1,.2 1,0 1,-.2 1,.1 1,0 1,0 1,.2 1,.1 1,-.3 1,0 1,-.3 1,.3 1,0 1,-.3 1,.4 1,.1 1,-.2 1,0 1,-.1 1,.3 1,-.4 1,.3 1,.3 1,-.3 1,.1 1,-.1 1,-.2 1,.2 1,.1 1,-.2 1,.2 1,.2 1,-.1 1,-.4 1,.1 1,-.1 1,.5 1,-.1 1,0 1,-.3 1,0 1,.2 1,0 1,-.1 1,.1 1,.1 1,0 1,-.3 1,-.1 1,.3 1,.1 1,-.1 1,0 1,-.1 1,.3 1,-.2 1,.1 1,-.2 1,.1 1,.1 1,-.2 1,0 1,.1 1,.3 1,-.2 1,.2 1,-.2 1,0 1,-.2 1,.1 1,.4 1,-.2 1,.1 1,0 1,-.2 1,0 1,.1 1,.1 1,-.1 1,.1 1,-.1 1,-.1 1,0 1,-.1 1,.4 1,-.6 1,.4 1,.4 1,-.4 1,-.2 1,.2 1,.3 1,-.3 1,.2 1,-.1 1,-.1 1,.6 1,-.5 1,-.1 1,0 1,.2 1,0 1,0 1,-.1 1,-.2 1,.3 1,-.1 1,0 1,-.2 1,.2 1,-.1 1,.2 1,-.3 1,.3 1,0 1,-.2 1,.1 1,0 1,.3 1,-.6 1,.4 1,-.2 1,.2 1,.2 1,-.2 1,.1 1,-.2 1,.5 1,-.1 1,0 1,-.4 1,0 1,.4 1,-.2 1,0 1,.1 1,-.2 1,.3 1,-.1 1,.1 1,-.2 1,.2 1,-.2 1,.3 1,0 1,0 1,-.1 1,.1 1,-.6 1,.6 1,-.2 1,.1 1,-.1 1,-.1 1,.1 1,.2 1,.2 1,-.4 1,0 1,.4 1,-.4 1,.5 1,-.3 1,-.2 1,.3 1,.2 1,-.6 1,.5 1,-.3 1,.3 1,-.3 1,-.2 1,.4 1,.1 1,.2 1,-.1 1,-.2 1,-.1 1,-.1 1,.1 1,-.1 1,.1 1,-.4 1,.5 1,0 1,.4 1,-.3 1,-.2 1,.2 1,-.3 1,.1 1,-.2 1,.5 1,-.1 1,-.3 1,.2 1,.2 1,-.1 1,0 1,-.2 1,0 1,.1 1,.2 1,-.3 1,-.1 1,.4 1,-.4 1,.4 1,-.2 1,.1 1,.2 1,-.2 1,0 1,-.3 1,.1 1,.2 1,.2 1,-.1 1,.2 1,-.3 1,-.1 1,.2 1,-.2 1,0 1,-.2 1,.4 1,-.4 1,.3 1,-.3 1,.4 1,-.4 1,.3 1,-.4 1,.2 1,.3 1,-.3 1,.1 1,-.1 1,-.3 1,.5 1,0 1,-.3 1,.3 1,-.2 1,-.1 1,.2 1,-.1 1,.5 1,-.7 1,.4 1,.1 1,-.5 1,0 1,.4 1,-.2 1,.2 1,.1 1,-.3 1,-.1 1,-.3 1,.5 1,-.2 1,.3 1,-.1 1,-.2 1,.5 1,-.1 1,-.1 1,-.3 1,.1 1,0 1,0 1,-.1 1,.3 1,-.1 1,.1 1,-.2 1,.3 1,-.2 1,-.5 1,.4 1,.1 1,.2 1,-.3 1,.1 1,-.1 1,.2 1,-.2 1,0 1,0 1,.2 1,-.2 1,-.2 1,.4 1,-.2 1,.2 1,0 1,.1 1,0 1,-.3 1,.1 1,-.2 1,.5 1,-.2 1,.1 1,-.3 1,-.2 1,.6 1,-.3 1,0 1,0 1,.1 1,0 1,-.4 1,.4 1,-.3 1,0 1,.4 1,-.2 1,-.2 1,-.3 1,.3 1,0 1,-.1 1,-.3 1,.1 1,-.1 1,.2 1,0 1,0 1,-.3 1,0 1,0 1,-.3 1,-.1 1,.2 1,-.4 1,0 1,-.4 1,0 1,-.4 1,.3 1,.1 1,.2 1,-.2 1,0 1,0 1,.1 1,.3 1,.3 1,0 1,.6 1,-.1 1,.1 1,.3 1,.1 1,.2 1,.6 1,-.2 1,.1 1,.2 1,.1 1,-.3 1,.3 1,-.1 1,-.1 1,.1 1,-.3 1,.2 1,.1 1,.1 1,-.1 1,.1 1,.2 1,0 1,0 1,0 1,-.2 1,0 1,.1 1,-.1 1,0 1,.4 1,-.3 1,-.1 1,.2 1,.3 1,-.3 1,.2 1,-.3 1,0 1,0 1,.1 1,.3 1,-.5 1,.5 1,-.4 1,.1 1,.2 1,-.1 1,0 1,-.3 1,.3 1,-.2 1,.6 1,-.5 1,.1 1,-.2 1,.1 1,-.1 1,.4 1,-.2 1,.1 1,-.2 1,0 1,.3 1,-.3 1,-.2 1,.4 1,-.2 1,.1 1,.2 1,-.3 1,.3 1,-.2 1,.3 1,0 1,-.3 1,.1 1,-.1 1,.1 1,.2 1,-.4 1,.4 1,-.4 1,.1 1,-.2 1,.7 1,-.4 1,.1 1,-.2 1,.3 1,-.5 1,.4 1,.3 1,-.4 1,.1 1,.1 1,-.3 1,.2 1,.1 1,-.1 1,.1 1,-.2 1,.2 1,-.1 1,.3 1,-.2 1,-.1 1,-.4 1,.5 1,.1 1,-.3 1,-.2 1,.1 1,.4 1,-.3 1,.1 1,.1 1,.2 1,-.2 1,-.1 1,0 1,.3 1,0 1,-.2 1,-.3 1,.2 1,.2 1,-.2 1,.2 1,0 1,0 1,0 1,0 1,-.2 1,.1 1,.4 1,-.6 1,.1 1,.3 1,-.2 1,-.1 1,-.1 1,.3 1,.1 1,.1 1,-.2 1,.1 1,-.3 1,.2 1,-.2 1,.2 1,.1 1,0 1,-.3 1,.4 1,-.3 1,-.1 1,.1 1,-.2 1,.3 1,0 1,-.1 1,.2 1,-.2 1,.1 1,-.3 1,.3 1,-.2 1,.1 1,.1 1,0 1,-.3 1,0 1,.2 1,.2 1,0 1,0 1,.1 1,-.1 1,-.1 1,-.2 1,0 1,.1 1,.1 1,0 1,0 1,0 1,.1 1,-.1 1,0 1,.1 1,-.2 1,-.1 1,.2 1,0"/>
<path stroke="#006ce0" d="M43,1171.8l1,0 1,.7 1,-.9 1,.1 1,.2 1,-.5 1,.4 1,.5 1,-.3 1,-.1 1,-.1 1,-.1 1,.2 1,-.3 1,-.1 1,.1 1,.2 1,-.2 1,.1 1,-.8 1,.9 1,.4 1,-.4 1,-.5 1,-.2 1,.4 1,-.4 1,.5 1,-.4 1,.4 1,.1 1,-1 1,.6 1,-.3 1,-.2 1,.2 1,.1 1,.4 1,-.8 1,.7 1,.3 1,-.5 1,0 1,-.2 1,-.3 1,.4 1,0 1,.1 1,.5 1,-.6 1,-.1 1,.3 1,-.9 1,.1 1,.2 1,-.1 1,.4 1,-.3 1,.6 1,-.1 1,-.3 1,-.3 1,.2 1,.1 1,-.6 1,.4 1,.1 1,-.2 1,.4 1,-.1 1,-.7 1,.3 1,-.3 1,.4 1,-.5 1,.6 1,-.2 1,.1 1,-.3 1,-.5 1,1 1,-.6 1,.4 1,-.3 1,0 1,.4 1,-.5 1,.3 1,-.9 1,.7 1,-.4 1,0 1,0 1,.1 1,.4 1,-1.1 1,.5 1,-.2 1,.5 1,-.5 1,.2 1,-.2 1,.3 1,0 1,-.4 1,.1 1,-.4 1,.4 1,.2 1,-.4 1,.4 1,-.9 1,0 1,.1 1,.3 1,.1 1,0 1,0 1,.2 1,-.3 1,-.3 1,0 1,1 1,-1.3 1,.7 1,.4 1,-.2 1,-.4 1,.2 1,.3 1,.1 1,-.6 1,.5 1,-.1 1,.3 1,.1 1,-.5 1,-.3 1,.5 1,.5 1,-.3 1,-.1 1,.7 1,-1 1,.6 1,-.4 1,.2 1,0 1,.5 1,-.7 1,.2 1,-.3 1,.7 1,-.3 1,.3 1,-.4 1,.3 1,.5 1,-.4 1,.3 1,0 1,-.2 1,-.3 1,.8 1,-.2 1,.3 1,-.8 1,.1 1,-.1 1,.5 1,.6 1,-.1 1,-.1 1,.1 1,.2 1,-.2 1,.3 1,0 1,-.6 1,.6 1,.6 1,-.4 1,.1 1,0 1,.2 1,.5 1,-.3 1,-.1 1,-.5 1,.9 1,-.3 1,.1 1,.9 1,.1 1,-.6 1,.9 1,0 1,-.2 1,.5 1,-.6 1,.3 1,0 1,.2 1,.7 1,-.5 1,.1 1,.2 1,.5 1,-.1 1,.5 1,-.4 1,-.1 1,.4 1,.2 1,-.1 1,.4 1,.6 1,-.6 1,.3 1,.5 1,-.5 1,.1 1,0 1,.6 1,.1 1,0 1,.1 1,.5 1,0 1,-.5 1,.5 1,.2 1,.3 1,-.1 1,0 1,.2 1,-.2 1,.7 1,0 1,.5 1,0 1,.1 1,.2 1,.1 1,.1 1,.1 1,0 1,0 1,0 1,0 1,.1 1,0 1,0 1,0 1,0 1,0 1,0 1,0 1,0 1,.1 1,0 1,0 1,0 1,0 1,0 1,0 1,0 1,0 1,0 1,0 1,.1 1,0 1,0 1,0 1,0 1,0 1,0 1,0 1,0 1,0 1,0 1,0 1,0 1,0 1,0 1,0 1,0 1,0 1,.1 1,0 1,0 1,0 1,0 1,0 1,0 1,0 1,0 1,0 1,0 1,0 1,0 1,0 1,0 1,0 1,0 1,0 1,0 1,0 1,0 1,0 1,0 1,0 1,0 1,0 1,0 1,0 1,0 1,0 1,0 1,0 1,0 1,0 1,0 1,0 1,0 1,0 1,0 1,0 1,0 1,0 1,0 1,0 1,0 1,-.1 1,0 1,0 1,0 1,0 1,0 1,0 1,0 1,0 1,0 1,0 1,-.1 1,0 1,0 1,0 1,0 1,0 1,0 1,0 1,-.1 1,0 1,0 1,0 1,0 1,0 1,0 1,-.1 1,0 1,0 1,0 1,0 1,0 1,0 1,-.1 1,0 1,0 1,0 1,0 1,0 1,-.1 1,0 1,0 1,0 1,0 1,0 1,-.1 1,0 1,0 1,0 1,0 1,0 1,0 1,-.1 1,0 1,0 1,0 1,0 1,0 1,0 1,-.1 1,0 1,0 1,0 1,0 1,0 1,0 1,0 1,-.1 1,0 1,0 1,0 1,0 1,0 1,0 1,0 1,0 1,0 1,0 1,-.1 1,0 1,0 1,0 1,0 1,0 1,0 1,0 1,0 1,0 1,0 1,0 1,0 1,0 1,0 1,0 1,0 1,0 1,0 1,0 1,0 1,0 1,0 1,0 1,0 1,.1 1,0 1,0 1,0 1,0 1,0 1,0 1,0 1,.1 1,0 1,0 1,0 1,0 1,0 1,0 1,.1 1,0 1,0 1,0 1,0 1,0 1,.1 1,0 1,0 1,0 1,0 1,.1 1,0 1,0 1,0 1,0 1,.1 1,0 1,0 1,0 1,0 1,0 1,.1 1,0 1,0 1,0 1,0 1,.1 1,0 1,0 1,0 1,0 1,0 1,.1 1,0 1,0 1,0 1,0 1,0 1,.1 1,0 1,0 1,0 1,0 1,0 1,0 1,0 1,0 1,.1 1,0 1,0 1,0 1,0 1,0 1,0 1,0 1,0 1,0 1,0 1,0 1,0 1,0 1,0 1,0 1,0 1,0 1,0 1,0 1,0 1,0 1,0 1,0 1,0 1,0 1,0 1,0 1,0 1,0 1,0 1,0 1,0 1,0 1,0 1,0 1,0 1,0 1,0 1,0 1,0 1,0 1,0 1,0 1,0 1,0 1,0 1,0 1,0 1,0 1,0 1,0 1,0 1,0 1,0 1,0 1,0 1,0 1,0 1,0 1,0 1,0 1,0 1,0 1,0 1,0 1,0 1,0 1,0 1,0 1,0 1,0 1,0 1,0 1,0 1,0 1,0 1,0 1,0 1,0 1,0 1,0 1,0 1,0 1,0 1,0 1,0 1,0 1,0 1,0 1,0 1,0 1,0 1,0 1,0 1,0 1,-.1 1,0 1,0 1,0 1,0 1,0 1,-.1 1,0 1,0 1,-.1 1,-.3 1,-.5 1,-.6 1,-.8 1,-.9 1,-.8 1,-.8 1,-.6 1,-.5 1,-.5 1,-.5 1,-.4 1,-.5 1,-.5 1,-.6 1,-.7 1,-.8 1,-.9 1,-1 1,-1.1 1,-1.3 1,-1.4 1,-1.6 1,-1.9 1,-2.2 1,-2.6 1,-2.8 1,-3 1,-3.2 1,-3.6 1,-4.1 1,-4.3 1,-4.5 1,-5 1,-5.2 1,-5.5 1,-5.5 1,-5.6 1,-5.8 1,-5.7 1,-5.6 1,-5.4 1,-5.4 1,-5.3 1,-5.2 1,-5.1 1,-4.9 1,-5 1,-5 1,-5.1 1,-5.3 1,-5.3 1,-5 1,-4.8 1,-4.7 1,-4.2 1,-3.6 1,-3.3 1,-2.9 1,-2.5 1,-1.7 1,-1.2 1,-1.1 1,-.9 1,-.6 1,-.3 1,.2 1,.6 1,.9 1,1.1 1,1.4 1,1.6 1,2.6 1,3.8 1,4.3 1,4.4 1,4.9 1,5.4 1,5.6 1,6 1,6.5 1,6.6 1,6.5 1,6.4 1,6.5 1,6.3 1,6.3 1,6.2 1,6 1,5.6 1,5 1,4.7 1,4.5 1,4.5 1,4.4 1,4.5 1,4.4 1,4.2 1,4 1,4 1,3.9 1,3.6 1,3.1 1,2.7 1,2.6 1,2.4 1,2 1,1.7 1,1.4 1,1.2 1,1.2 1,1 1,.9 1,.8 1,.6 1,.6 1,.4 1,.4 1,.3 1,.3 1,.4 1,.4 1,.6 1,.8 1,1 1,1 1,1 1,.9 1,.6 1,.2 1,.1 1,.1 1,0 1,.1 1,0 1,.1 1,0 1,0 1,0 1,.1 1,0 1,0 1,.1 1,0 1,.1 1,0 1,.1 1,0 1,.1 1,.1 1,.1 1,.1 1,.1 1,0 1,.1 1,.1 1,.1 1,.1 1,.1 1,.1 1,.1 1,.1 1,.1 1,.1 1,.1 1,.1 1,0 1,.1 1,.1 1,.1 1,0 1,.1 1,0 1,.1 1,0 1,.1 1,0 1,0 1,.1 1,0 1,.1 1,0 1,.1 1,0 1,0 1,.1 1,0 1,0 1,.1 1,0 1,.1 1,0 1,0 1,.1 1,0 1,0 1,0 1,.1 1,0 1,0 1,.1 1,0 1,0 1,.1 1,0 1,0 1,0 1,.1 1,0 1,0 1,.1 1,0 1,0 1,0 1,.1 1,0 1,0 1,.1 1,0 1,0 1,0 1,.1 1,0 1,0 1,.1 1,0 1,0 1,.1 1,0 1,0 1,.1 1,0 1,0 1,.1 1,0 1,.1 1,0 1,0 1,.1 1,0 1,.1 1,0 1,0 1,.1 1,0 1,.1 1,0 1,.1 1,0 1,0 1,.1 1,0 1,0 1,.1 1,0 1,.1 1,0 1,0 1,.1 1,0 1,0 1,0 1,.1 1,0 1,0 1,0 1,.1 1,0 1,0 1,0 1,0 1,0 1,0 1,0 1,.1 1,0 1,0 1,0 1,0 1,0 1,0 1,0 1,0 1,.1 1,0 1,0 1,0 1,0 1,0 1,0 1,0 1,0 1,.1 1,0 1,0 1,0 1,0 1,0 1,0 1,0 1,0 1,0 1,0 1,.1 1,0 1,0 1,0 1,0 1,0 1,0 1,0 1,0 1,0 1,0 1,0 1,.1 1,0 1,0 1,0 1,0 1,0 1,0 1,0 1,0 1,0 1,0 1,0 1,0 1,.1 1,0 1,0 1,0 1,0 1,0 1,0 1,0 1,0 1,0 1,0 1,0 1,0 1,0 1,0 1,0 1,.1 1,0 1,0 1,0 1,0 1,0 1,0 1,0 1,0 1,0 1,0 1,0 1,0 1,0 1,0 1,0 1,0 1,0 1,0 1,0 1,0 1,0 1,0 1,0 1,.1 1,0 1,0 1,0 1,0 1,0 1,0 1,0 1,0 1,0 1,0 1,0 1,0 1,0 1,0 1,0 1,0 1,0 1,0 1,0 1,0 1,0 1,0 1,0 1,0 1,0 1,0 1,0 1,0 1,0 1,0 1,0 1,0 1,0 1,0 1,0 1,0 1,0 1,0 1,0 1,0 1,0 1,0 1,0 1,0 1,0 1,0 1,0 1,0 1,0 1,0 1,0 1,0 1,0 1,0 1,0 1,0 1,0 1,0 1,0 1,0 1,0 1,0 1,0 1,0 1,0 1,0 1,0 1,0 1,0 1,0 1,0 1,0 1,0 1,0 1,0 1,0 1,0 1,0 1,0 1,0 1,0 1,0 1,0 1,0 1,0 1,0 1,0 1,0 1,0 1,0 1,0 1,0 1,0 1,0 1,0 1,0 1,0 1,0 1,0 1,0 1,0 1,0 1,0 1,0 1,0 1,0 1,0 1,0 1,0 1,0 1,0 1,0 1,0 1,0 1,0 1,0 1,0 1,0 1,0 1,0 1,0 1,0 1,0 1,0 1,0 1,0 1,0 1,0 1,0 1,0 1,0 1,0 1,0 1,0 1,0 1,0 1,0 1,0 1,0 1,0 1,0 1,0 1,0 1,0 1,0 1,0 1,0 1,0 1,0 1,0 1,0 1,0 1,0 1,0 1,0 1,0 1,0 1,0 1,0 1,0 1,0 1,0 1,0 1,0 1,0 1,0 1,0 1,0 1,0 1,0 1,0 1,0 1,0 1,0 1,0 1,0 1,0 1,0 1,0 1,0 1,0 1,0 1,0 1,0 1,0 1,0 1,0 1,0 1,0 1,0 1,0 1,0 1,0 1,0 1,0 1,0 1,0 1,0 1,0 1,0 1,0 1,0 1,0 1,0 1,0 1,0 1,0 1,0 1,0 1,0 1,0 1,0 1,0 1,0 1,0 1,0 1,0 1,0 1,0 1,0 1,0 1,0 1,0 1,0 1,0 1,0 1,0 1,0 1,0 1,0 1,0 1,0 1,0 1,0 1,0 1,0 1,0 1,0 1,0 1,0 1,0 1,0 1,0 1,0 1,0 1,0 1,0 1,0 1,0 1,0 1,0 1,0 1,0 1,0 1,0 1,0 1,0 1,0 1,0 1,0 1,0 1,0 1,0 1,0 1,0 1,0 1,0 1,0 1,0 1,0 1,0 1,0 1,0 1,0 1,0 1,0 1,0 1,0 1,-.1 1,-.3 1,-.3 1,-.5 1,-.5 1,-.6 1,-.6 1,-.6 1,-.6 1,-.6 1,-.6 1,-.6 1,-.7 1,-.8 1,-.8 1,-.8 1,-.8 1,-.7 1,-.7 1,-.7 1,-.6 1,-.5 1,-.4 1,-.2 1,-.3 1,-.2 1,-.2 1,-.1 1,-.2 1,-.1 1,-.1 1,0 1,0 1,.1 1,.1 1,.1 1,.1 1,.2 1,.2 1,.2 1,.2 1,.3 1,.4 1,.5 1,.5 1,.6 1,.7 1,.6 1,.6 1,.5 1,.4 1,.3 1,.2 1,.1 1,.1 1,.1 1,.1 1,0 1,.1 1,.1 1,.1 1,0 1,.1 1,0 1,.1 1,0 1,.1 1,0 1,.1 1,0 1,0 1,.1 1,0 1,0 1,0 1,.1 1,0 1,0 1,0 1,0 1,0 1,0 1,0 1,.1 1,0 1,0 1,0 1,0 1,0 1,0 1,0 1,0 1,0 1,0 1,0 1,0 1,0 1,0 1,0 1,0 1,0 1,0 1,.1 1,0 1,0 1,0 1,0 1,0 1,0 1,0 1,0 1,0 1,0 1,0 1,0 1,0 1,0 1,0 1,.1 1,0 1,0 1,0 1,0 1,0 1,.1 1,.1 1,.1 1,.1 1,.1 1,.2 1,.2 1,.1 1,.2 1,.2 1,.2 1,.2 1,.2 1,.2 1,.2 1,.1 1,.2 1,.2 1,.1 1,.1 1,.2 1,.1 1,0 1,.1 1,.1 1,0 1,.1 1,.1 1,0 1,.1 1,0 1,.1 1,0 1,.1 1,0 1,.1 1,0 1,.1 1,0 1,.1 1,0 1,.1 1,0 1,0 1,.1 1,0 1,0 1,.1 1,0 1,.1 1,0 1,0 1,.1 1,0 1,0 1,.1 1,0 1,0 1,.1 1,0 1,0 1,0 1,.1 1,0 1,0 1,.1 1,0 1,0 1,.1 1,0 1,0 1,.1 1,0 1,0 1,.1 1,0 1,0 1,.1 1,0 1,0 1,.1 1,0 1,0 1,.1 1,0 1,0 1,0 1,.1 1,0 1,0 1,.1 1,0 1,0 1,0 1,.1 1,0 1,0 1,0 1,.1 1,0 1,0 1,0 1,0 1,.1 1,0 1,0 1,0 1,0 1,0 1,.1 1,0 1,0 1,0 1,0 1,0 1,0 1,0 1,0 1,0 1,0 1,0 1,0 1,0 1,0 1,0 1,0 1,0 1,0 1,0 1,0 1,0 1,0 1,0 1,0 1,0 1,0 1,0 1,0 1,0 1,0 1,0 1,0 1,0 1,0 1,0 1,0 1,0 1,0 1,0 1,0 1,0 1,0 1,0 1,0 1,0 1,0 1,0 1,0 1,0 1,0 1,0 1,0 1,0 1,0 1,0 1,0 1,0 1,0 1,0 1,0 1,0 1,0 1,0 1,0 1,0 1,0 1,0 1,0 1,0 1,0 1,0 1,0 1,0 1,0 1,0 1,0 1,0 1,0 1,0 1,0 1,0 1,0 1,0 1,0 1,0 1,0 1,0 1,0 1,0 1,0 1,0 1,0 1,0 1,0 1,0 1,0 1,0 1,0 1,0 1,0 1,0 1,0 1,0 1,0 1,0 1,0 1,0 1,0 1,0 1,0 1,0 1,0 1,0 1,0 1,0 1,0 1,0 1,0 1,0 1,0 1,-.1 1,0 1,-.1 1,-.1 1,-.1 1,-.1 1,0 1,-.1 1,-.1 1,-.1 1,-.1 1,0 1,-.1 1,0 1,0 1,0 1,0 1,0 1,.1 1,0 1,0 1,.1 1,0 1,.1 1,0 1,.1 1,.1 1,0 1,.1 1,.1 1,.1 1,0 1,.1 1,.1 1,.1 1,0 1,.1 1,.1 1,0 1,.1 1,0 1,.1 1,0 1,.1 1,0 1,.1 1,0 1,0 1,0 1,0 1,0 1,0 1,0 1,0 1,0 1,0 1,0 1,0 1,0 1,0 1,0 1,0 1,0 1,0 1,0 1,0 1,0 1,0 1,0 1,0 1,0 1,0 1,0 1,0 1,0 1,0 1,0 1,0 1,0 1,0 1,0 1,0 1,0 1,0 1,0 1,0 1,0 1,0 1,0 1,0 1,0 1,0 1,0 1,0 1,0 1,0 1,0 1,0 1,0 1,0 1,0 1,0 1,0 1,0 1,0 1,0 1,0 1,0 1,0 1,0 1,0 1,0 1,0 1,0 1,0 1,0 1,0 1,0 1,0 1,0 1,0 1,0 1,0 1,0 1,0 1,0 1,0 1,0 1,0 1,0 1,0 1,0 1,0 1,0 1,0 1,0 1,0 1,0 1,0 1,0 1,0 1,0 1,0 1,0 1,0 1,0 1,0 1,0 1,0 1,0 1,0 1,0 1,0 1,0 1,0 1,0 1,0 1,0 1,0 1,0 1,0 1,0 1,-.1 1,0 1,0 1,-.1 1,0 1,-.1 1,0 1,-.1 1,-.1 1,0 1,-.1 1,-.1 1,-.1 1,0 1,-.1 1,-.1 1,-.1 1,-.1 1,-.1 1,0 1,-.1 1,-.1 1,-.1 1,-.1 1,0 1,-.1 1,-.1 1,-.1 1,-.2 1,-.1 1,-.1 1,-.1 1,-.2 1,-.1 1,-.1 1,-.2 1,-.1 1,-.1 1,-.1 1,-.1 1,-.1 1,-.1 1,-.1 1,0 1,-.1 1,0 1,0 1,0 1,.1 1,.1 1,.1 1,.1 1,.1 1,.1 1,.2 1,.2 1,.1 1,.2 1,.2 1,.1 1,.2 1,.1 1,.1 1,.2 1,.1 1,.2 1,.2 1,.1 1,.2 1,.2 1,.1 1,.2 1,.2 1,.1 1,.2 1,.2 1,.1 1,.1 1,.2 1,.1 1,.1 1,0 1,.1 1,.1 1,.1 1,0 1,.1 1,0 1,.1 1,.1 1,0 1,.1 1,0 1,.1 1,0 1,.1 1,.1 1,0 1,0 1,.1 1,0 1,.1 1,0 1,.1 1,0 1,0 1,.1 1,0 1,0 1,0 1,0 1,.1 1,0 1,0 1,0 1,0 1,0 1,0 1,0 1,0 1,0 1,0 1,0 1,0 1,0 1,0 1,0 1,0 1,0 1,0 1,0 1,0 1,0 1,0 1,0 1,0 1,0 1,0 1,0 1,0 1,0 1,0 1,0 1,0 1,0 1,0 1,0 1,0 1,0 1,0 1,0 1,0 1,0 1,0 1,0 1,0 1,0 1,0 1,0 1,0 1,0 1,0 1,0 1,0 1,0 1,0 1,0 1,0 1,0 1,0 1,0 1,0 1,0 1,0 1,0 1,0 1,0 1,0 1,0 1,0 1,0 1,0 1,0 1,0 1,0 1,0 1,0 1,0 1,0 1,0 1,0 1,0 1,0 1,0 1,0 1,0 1,0 1,0 1,0 1,0 1,0 1,0 1,0 1,0 1,0 1,0 1,0 1,0 1,0 1,0 1,0 1,0 1,0 1,0 1,0 1,0 1,0 1,0 1,0 1,0 1,0 1,0 1,0 1,0 1,0 1,0 1,0 1,0 1,0 1,0 1,0 1,0 1,0 1,0 1,0 1,0 1,0 1,0 1,0 1,0 1,0 1,0 1,0 1,0 1,0 1,0 1,0 1,0 1,0 1,0 1,0 1,0 1,0"/>
<path stroke="#00ae68" d="M43,947.7l1,0 1,.1 1,0 1,.4 1,-1.3 1,.7 1,.1 1,.3 1,-.7 1,.4 1,.1 1,-.4 1,-.5 1,.5 1,-.3 1,.5 1,-.4 1,.7 1,-.5 1,-.3 1,.1 1,-.2 1,.4 1,.3 1,-.5 1,.3 1,-.6 1,.4 1,.5 1,-1.1 1,.8 1,-.1 1,-.9 1,.1 1,.1 1,.6 1,-.4 1,0 1,.3 1,-.2 1,0 1,-.2 1,.4 1,-.5 1,.7 1,-.6 1,-.2 1,.4 1,0 1,-.8 1,.7 1,-.5 1,.1 1,.5 1,-.5 1,.4 1,-.3 1,.7 1,-.6 1,-.3 1,0 1,.1 1,.3 1,-.1 1,.3 1,-.2 1,0 1,0 1,-.1 1,.1 1,.2 1,0 1,-.4 1,-.4 1,.3 1,.3 1,-.8 1,.6 1,.3 1,-.4 1,-.1 1,.8 1,-.1 1,-.5 1,.5 1,0 1,-.7 1,1.1 1,-1.1 1,.2 1,-.2 1,.3 1,-.4 1,.4 1,.3 1,-.2 1,-.2 1,.6 1,-.8 1,.6 1,-.4 1,.2 1,-.1 1,.1 1,-.1 1,-.2 1,0 1,.3 1,-.1 1,-.3 1,.1 1,0 1,.2 1,.1 1,-.1 1,-.2 1,.2 1,-.4 1,-.5 1,.9 1,-.5 1,.2 1,-.1 1,.6 1,-.6 1,.5 1,-.2 1,-.3 1,-.1 1,.6 1,0 1,.1 1,.4 1,-.5 1,0 1,-.1 1,.1 1,-.2 1,-.1 1,.9 1,-1.2 1,.7 1,0 1,0 1,-.3 1,.2 1,0 1,-.2 1,.4 1,-.1 1,0 1,.4 1,-.5 1,.5 1,-.3 1,.3 1,0 1,0 1,-.3 1,.1 1,.1 1,.3 1,.3 1,.1 1,-.4 1,.3 1,-.5 1,-.1 1,.5 1,.1 1,-.1 1,0 1,.8 1,-.4 1,-.1 1,1.3 1,-.6 1,0 1,.4 1,-.4 1,.8 1,-.8 1,.2 1,.4 1,-.1 1,.8 1,-.8 1,.4 1,.4 1,.2 1,.2 1,-.1 1,.6 1,-.7 1,.3 1,.3 1,-.2 1,.1 1,0 1,.1 1,-.1 1,.3 1,-.2 1,.6 1,-.5 1,1.2 1,0 1,-.1 1,-.3 1,0 1,.6 1,-.2 1,.1 1,-.2 1,.6 1,-.5 1,.4 1,-.5 1,.4 1,.4 1,-.2 1,.1 1,.5 1,-.2 1,.5 1,-1 1,.9 1,.1 1,-.5 1,.2 1,.7 1,-.5 1,.2 1,.5 1,-.2 1,.3 1,-.3 1,.5 1,.3 1,-.1 1,-.6 1,.9 1,0 1,0 1,0 1,.1 1,0 1,0 1,0 1,0 1,0 1,0 1,0 1,0 1,0 1,0 1,0 1,0 1,0 1,0 1,0 1,0 1,0 1,0 1,0 1,0 1,0 1,0 1,0 1,0 1,0 1,0 1,0 1,0 1,0 1,0 1,0 1,0 1,0 1,0 1,0 1,0 1,0 1,0 1,0 1,0 1,0 1,0 1,0 1,0 1,0 1,0 1,0 1,0 1,0 1,0 1,0 1,0 1,0 1,0 1,0 1,0 1,0 1,0 1,0 1,0 1,0 1,0 1,0 1,0 1,0 1,0 1,.3 1,.5 1,.1 1,0 1,0 1,0 1,0 1,0 1,0 1,0 1,0 1,0 1,0 1,0 1,0 1,0 1,0 1,0 1,0 1,0 1,0 1,0 1,0 1,0 1,0 1,0 1,0 1,0 1,0 1,0 1,0 1,0 1,0 1,0 1,0 1,0 1,0 1,0 1,0 1,0 1,0 1,0 1,0 1,0 1,0 1,0 1,0 1,0 1,0 1,0 1,-.3 1,-.4 1,-.1 1,0 1,0 1,0 1,0 1,0 1,0 1,0 1,0 1,0 1,0 1,0 1,0 1,0 1,0 1,0 1,0 1,0 1,0 1,0 1,0 1,0 1,0 1,0 1,0 1,0 1,0 1,0 1,0 1,0 1,0 1,0 1,0 1,0 1,.1 1,0 1,0 1,0 1,0 1,0 1,0 1,0 1,0 1,0 1,0 1,0 1,0 1,0 1,0 1,0 1,0 1,0 1,0 1,0 1,0 1,0 1,0 1,0 1,0 1,.1 1,0 1,0 1,0 1,0 1,0 1,0 1,0 1,0 1,0 1,0 1,0 1,0 1,0 1,0 1,0 1,0 1,0 1,.1 1,0 1,0 1,0 1,0 1,0 1,0 1,0 1,0 1,0 1,0 1,0 1,0 1,0 1,0 1,0 1,.1 1,0 1,0 1,0 1,0 1,0 1,0 1,0 1,0 1,0 1,0 1,0 1,0 1,.1 1,0 1,0 1,0 1,0 1,0 1,0 1,0 1,0 1,0 1,.1 1,0 1,0 1,0 1,0 1,.1 1,0 1,0 1,.1 1,0 1,0 1,0 1,.1 1,0 1,0 1,.1 1,0 1,0 1,0 1,.1 1,0 1,0 1,0 1,0 1,.1 1,0 1,0 1,0 1,0 1,0 1,0 1,0 1,0 1,0 1,0 1,0 1,0 1,0 1,0 1,0 1,0 1,0 1,0 1,0 1,0 1,0 1,0 1,0 1,0 1,0 1,0 1,0 1,0 1,0 1,0 1,0 1,0 1,0 1,0 1,0 1,0 1,0 1,0 1,0 1,0 1,0 1,0 1,0 1,0 1,0 1,0 1,0 1,0 1,0 1,0 1,0 1,0 1,0 1,0 1,0 1,0 1,0 1,0 1,0 1,0 1,0 1,0 1,0 1,0 1,0 1,0 1,0 1,0 1,0 1,0 1,0 1,0 1,0 1,0 1,0 1,0 1,0 1,0 1,0 1,0 1,0 1,0 1,0 1,0 1,0 1,0 1,0 1,0 1,0 1,0 1,0 1,0 1,-.1 1,0 1,0 1,0 1,0 1,0 1,-.1 1,-.2 1,-.3 1,-.5 1,-.6 1,-.6 1,-.7 1,-.7 1,-.8 1,-.9 1,-1 1,-1.1 1,-1.3 1,-1.3 1,-1.5 1,-1.5 1,-1.7 1,-2 1,-2.1 1,-2.4 1,-2.5 1,-2.6 1,-2.8 1,-3.2 1,-3.4 1,-3.6 1,-3.7 1,-3.7 1,-3.8 1,-3.9 1,-4 1,-4.1 1,-4.2 1,-4.4 1,-4.6 1,-4.7 1,-4.8 1,-4.8 1,-4.9 1,-5 1,-5 1,-5.1 1,-5 1,-5 1,-5 1,-5 1,-5 1,-5 1,-5 1,-5 1,-5 1,-5 1,-5.1 1,-5.3 1,-5.1 1,-4.9 1,-4.3 1,-4.3 1,-4.1 1,-3.6 1,-2.9 1,-2.1 1,-2 1,-1.8 1,-1.5 1,-1.1 1,-.6 1,-.1 1,.6 1,.9 1,1.4 1,1.6 1,1.8 1,2 1,2.8 1,3.7 1,4.4 1,4.5 1,4.6 1,5 1,5.4 1,5.6 1,5.7 1,5.7 1,6 1,6.1 1,6.1 1,6 1,6.1 1,6.2 1,6 1,5.9 1,5.6 1,5.4 1,5.4 1,5.1 1,4.9 1,4.6 1,4.4 1,4.3 1,4 1,3.9 1,3.6 1,3.4 1,3.2 1,3 1,2.9 1,2.9 1,2.9 1,2.9 1,3.1 1,3.1 1,3 1,2.7 1,2.4 1,2 1,1.9 1,1.7 1,1.6 1,1.4 1,1.3 1,1.1 1,.9 1,.9 1,.9 1,.8 1,.8 1,.6 1,.6 1,.4 1,.3 1,.2 1,.1 1,.1 1,.2 1,.1 1,.1 1,0 1,.1 1,.1 1,0 1,.1 1,.1 1,0 1,.1 1,.1 1,.1 1,0 1,.1 1,.1 1,.1 1,0 1,.1 1,.1 1,.1 1,0 1,.1 1,.1 1,0 1,.1 1,.1 1,0 1,.1 1,.1 1,0 1,.1 1,0 1,.1 1,.1 1,0 1,.1 1,0 1,.1 1,0 1,0 1,.1 1,0 1,.1 1,0 1,.1 1,0 1,0 1,.1 1,0 1,.1 1,0 1,0 1,.1 1,0 1,.1 1,0 1,0 1,.1 1,0 1,0 1,.1 1,0 1,0 1,.1 1,0 1,0 1,.1 1,0 1,0 1,.1 1,0 1,0 1,0 1,.1 1,0 1,0 1,.1 1,0 1,0 1,0 1,.1 1,0 1,0 1,0 1,.1 1,0 1,0 1,0 1,.1 1,0 1,0 1,0 1,0 1,.1 1,0 1,0 1,0 1,0 1,.1 1,0 1,0 1,0 1,0 1,0 1,.1 1,0 1,0 1,0 1,0 1,0 1,.1 1,0 1,0 1,0 1,0 1,0 1,0 1,.1 1,0 1,0 1,0 1,0 1,0 1,0 1,0 1,.1 1,0 1,0 1,0 1,0 1,0 1,0 1,0 1,.1 1,0 1,0 1,0 1,0 1,0 1,0 1,0 1,.1 1,0 1,0 1,0 1,0 1,0 1,0 1,0 1,0 1,0 1,.1 1,0 1,0 1,0 1,0 1,0 1,0 1,0 1,0 1,.1 1,0 1,0 1,0 1,0 1,0 1,0 1,0 1,0 1,0 1,.1 1,0 1,0 1,0 1,0 1,0 1,0 1,0 1,0 1,.1 1,0 1,0 1,0 1,0 1,0 1,0 1,0 1,.1 1,0 1,0 1,0 1,0 1,0 1,0 1,0 1,.1 1,0 1,0 1,0 1,0 1,0 1,.1 1,0 1,0 1,0 1,0 1,0 1,.1 1,0 1,0 1,0 1,0 1,.1 1,0 1,0 1,0 1,0 1,.1 1,0 1,0 1,0 1,0 1,.1 1,0 1,0 1,0 1,0 1,.1 1,0 1,0 1,0 1,.1 1,0 1,0 1,0 1,0 1,.1 1,0 1,0 1,0 1,0 1,0 1,.1 1,0 1,0 1,0 1,0 1,0 1,.1 1,0 1,0 1,0 1,0 1,0 1,0 1,0 1,.1 1,0 1,0 1,0 1,0 1,0 1,0 1,0 1,0 1,0 1,0 1,0 1,0 1,0 1,0 1,0 1,0 1,0 1,0 1,0 1,0 1,0 1,0 1,0 1,0 1,0 1,0 1,0 1,0 1,0 1,0 1,0 1,0 1,0 1,0 1,0 1,0 1,0 1,0 1,0 1,0 1,0 1,0 1,0 1,0 1,0 1,0 1,0 1,0 1,0 1,0 1,0 1,0 1,0 1,0 1,0 1,0 1,0 1,0 1,0 1,0 1,0 1,0 1,0 1,0 1,0 1,0 1,0 1,0 1,0 1,0 1,0 1,0 1,0 1,0 1,0 1,0 1,0 1,0 1,0 1,0 1,0 1,0 1,0 1,0 1,0 1,0 1,0 1,0 1,0 1,0 1,0 1,0 1,0 1,0 1,0 1,0 1,0 1,0 1,0 1,0 1,0 1,0 1,0 1,0 1,0 1,0 1,0 1,0 1,0 1,0 1,0 1,0 1,0 1,0 1,0 1,0 1,0 1,0 1,0 1,0 1,0 1,0 1,0 1,0 1,0 1,0 1,0 1,0 1,0 1,0 1,0 1,0 1,0 1,0 1,0 1,0 1,0 1,0 1,0 1,0 1,0 1,0 1,0 1,0 1,0 1,0 1,0 1,0 1,0 1,0 1,0 1,0 1,0 1,0 1,0 1,0 1,0 1,0 1,0 1,0 1,0 1,0 1,0 1,0 1,0 1,0 1,0 1,0 1,0 1,0 1,0 1,0 1,0 1,0 1,0 1,0 1,0 1,0 1,0 1,0 1,0 1,0 1,0 1,0 1,0 1,0 1,0 1,0 1,0 1,0 1,0 1,0 1,0 1,0 1,0 1,0 1,0 1,0 1,0 1,0 1,0 1,0 1,0 1,0 1,0 1,0 1,0 1,0 1,0 1,0 1,0 1,0 1,0 1,0 1,0 1,0 1,0 1,0 1,0 1,0 1,0 1,0 1,0 1,0 1,0 1,0 1,0 1,0 1,0 1,0 1,0 1,0 1,0 1,0 1,0 1,0 1,0 1,0 1,0 1,0 1,0 1,0 1,0 1,0 1,0 1,0 1,0 1,0 1,0 1,0 1,0 1,-.1 1,-.1 1,-.1 1,-.2 1,-.2 1,-.2 1,-.2 1,-.3 1,-.2 1,-.3 1,-.3 1,-.3 1,-.3 1,-.4 1,-.6 1,-.6 1,-.7 1,-.7 1,-.8 1,-.8 1,-.8 1,-.8 1,-.8 1,-.7 1,-.6 1,-.6 1,-.4 1,-.5 1,-.5 1,-.5 1,-.5 1,-.5 1,-.4 1,-.3 1,-.3 1,-.2 1,-.1 1,0 1,.1 1,.2 1,.3 1,.3 1,.3 1,.3 1,.4 1,.4 1,.4 1,.3 1,.3 1,.4 1,.3 1,.4 1,.4 1,.4 1,.4 1,.4 1,.3 1,.3 1,.3 1,.2 1,.2 1,.1 1,.1 1,.1 1,.1 1,.1 1,.1 1,.1 1,.1 1,.1 1,.1 1,.1 1,.1 1,0 1,.1 1,.1 1,0 1,.1 1,0 1,.1 1,0 1,0 1,.1 1,0 1,0 1,0 1,0 1,.1 1,0 1,0 1,0 1,0 1,0 1,0 1,0 1,0 1,0 1,0 1,.1 1,0 1,0 1,0 1,0 1,0 1,0 1,0 1,0 1,0 1,0 1,0 1,0 1,0 1,0 1,0 1,0 1,0 1,.1 1,0 1,0 1,0 1,0 1,0 1,0 1,0 1,0 1,.1 1,0 1,0 1,0 1,.1 1,0 1,.1 1,.1 1,.2 1,.1 1,.2 1,.2 1,.2 1,.2 1,.2 1,.2 1,.3 1,.2 1,.2 1,.2 1,.2 1,.2 1,.2 1,.1 1,.2 1,.1 1,.1 1,0 1,.1 1,0 1,.1 1,.1 1,0 1,.1 1,0 1,.1 1,0 1,.1 1,0 1,0 1,.1 1,0 1,.1 1,0 1,0 1,.1 1,0 1,.1 1,0 1,0 1,.1 1,0 1,0 1,.1 1,0 1,0 1,0 1,.1 1,0 1,0 1,.1 1,0 1,0 1,0 1,.1 1,0 1,0 1,0 1,.1 1,0 1,0 1,0 1,.1 1,0 1,0 1,0 1,.1 1,0 1,0 1,0 1,.1 1,0 1,0 1,0 1,.1 1,0 1,0 1,.1 1,0 1,0 1,.1 1,0 1,0 1,.1 1,0 1,0 1,.1 1,0 1,0 1,.1 1,0 1,0 1,.1 1,0 1,0 1,.1 1,0 1,0 1,.1 1,0 1,0 1,0 1,.1 1,0 1,0 1,0 1,0 1,.1 1,0 1,0 1,0 1,0 1,0 1,0 1,0 1,0 1,0 1,0 1,0 1,0 1,0 1,0 1,0 1,0 1,0 1,0 1,0 1,0 1,0 1,0 1,0 1,0 1,0 1,0 1,0 1,0 1,0 1,0 1,0 1,0 1,0 1,0 1,0 1,0 1,0 1,0 1,0 1,0 1,0 1,0 1,0 1,0 1,0 1,0 1,0 1,0 1,0 1,0 1,0 1,0 1,0 1,0 1,0 1,0 1,0 1,0 1,0 1,0 1,0 1,0 1,0 1,0 1,0 1,0 1,0 1,0 1,0 1,0 1,0 1,0 1,0 1,0 1,0 1,0 1,0 1,0 1,0 1,0 1,0 1,0 1,0 1,0 1,0 1,0 1,0 1,0 1,0 1,0 1,0 1,0 1,0 1,0 1,0 1,0 1,0 1,0 1,0 1,0 1,0 1,0 1,0 1,0 1,0 1,0 1,0 1,0 1,0 1,0 1,0 1,0 1,0 1,0 1,0 1,0 1,-.1 1,0 1,-.1 1,-.1 1,-.1 1,-.1 1,-.1 1,-.2 1,-.1 1,-.1 1,-.1 1,-.1 1,-.1 1,0 1,-.1 1,0 1,0 1,0 1,0 1,.1 1,0 1,.1 1,0 1,.1 1,.1 1,0 1,.1 1,.1 1,.1 1,.1 1,0 1,.1 1,.1 1,.1 1,.1 1,.1 1,.1 1,.1 1,.1 1,0 1,.1 1,.1 1,0 1,.1 1,.1 1,0 1,0 1,.1 1,0 1,0 1,0 1,0 1,0 1,0 1,0 1,0 1,0 1,0 1,0 1,0 1,0 1,0 1,0 1,0 1,0 1,0 1,0 1,0 1,0 1,0 1,0 1,0 1,0 1,0 1,0 1,0 1,0 1,0 1,0 1,0 1,0 1,0 1,0 1,0 1,0 1,0 1,0 1,0 1,0 1,0 1,0 1,0 1,0 1,0 1,0 1,0 1,0 1,0 1,0 1,0 1,0 1,0 1,0 1,0 1,0 1,0 1,0 1,0 1,0 1,0 1,0 1,0 1,0 1,0 1,0 1,0 1,0 1,0 1,0 1,0 1,0 1,0 1,0 1,0 1,0 1,0 1,0 1,0 1,0 1,0 1,0 1,0 1,0 1,0 1,0 1,0 1,0 1,0 1,0 1,0 1,0 1,0 1,0 1,0 1,0 1,0 1,0 1,0 1,0 1,0 1,0 1,0 1,0 1,0 1,0 1,0 1,0 1,0 1,0 1,0 1,0 1,0 1,0 1,-.1 1,0 1,-.1 1,0 1,-.1 1,-.1 1,-.1 1,0 1,-.1 1,-.1 1,-.1 1,-.1 1,-.1 1,-.1 1,-.1 1,-.1 1,-.1 1,-.1 1,-.1 1,-.1 1,-.1 1,-.1 1,-.1 1,-.1 1,0 1,-.1 1,-.1 1,-.1 1,-.1 1,-.1 1,-.1 1,-.1 1,-.1 1,-.1 1,-.1 1,-.1 1,-.1 1,-.1 1,0 1,-.1 1,-.1 1,-.1 1,0 1,-.1 1,0 1,-.1 1,0 1,0 1,0 1,0 1,.1 1,0 1,.1 1,.1 1,.1 1,.1 1,.1 1,.1 1,.1 1,.2 1,.1 1,.1 1,.1 1,.2 1,.1 1,.2 1,.2 1,.2 1,.2 1,.2 1,.2 1,.2 1,.2 1,.2 1,.2 1,.2 1,.1 1,.2 1,.1 1,.2 1,.1 1,.1 1,0 1,.1 1,0 1,.1 1,0 1,.1 1,0 1,0 1,.1 1,0 1,.1 1,0 1,0 1,.1 1,0 1,0 1,.1 1,0 1,0 1,.1 1,0 1,0 1,0 1,.1 1,0 1,0 1,0 1,0 1,0 1,.1 1,0 1,0 1,0 1,0 1,0 1,0 1,0 1,0 1,0 1,0 1,0 1,0 1,0 1,.1 1,0 1,0 1,0 1,0 1,0 1,0 1,0 1,0 1,0 1,0 1,0 1,0 1,0 1,0 1,0 1,0 1,0 1,.1 1,0 1,0 1,0 1,0 1,0 1,0 1,0 1,0 1,0 1,0 1,0 1,0 1,0 1,0 1,0 1,0 1,0 1,0 1,0 1,0 1,0 1,0 1,.1 1,0 1,0 1,0 1,0 1,0 1,0 1,0 1,0 1,0 1,0 1,0 1,0 1,0 1,0 1,0 1,0 1,0 1,0 1,0 1,0 1,0 1,0 1,0 1,0 1,0 1,0 1,0 1,0 1,0 1,0 1,0 1,0 1,0 1,0 1,.1 1,0 1,0 1,0 1,0 1,0 1,0 1,0 1,0 1,0 1,0 1,0 1,0 1,0 1,0 1,0 1,0 1,0 1,0 1,0 1,0 1,0 1,0 1,0 1,0 1,0 1,0 1,0 1,0 1,0 1,0 1,0 1,0 1,0 1,0 1,0 1,0 1,0 1,0 1,0 1,0 1,0 1,0 1,0 1,0 1,0 1,0 1,0 1,0 1,0 1,0 1,0"/>
<path stroke="#c875e2" d="M43,702l1,0 1,0 1,0 1,-.1 1,.2 1,-.1 1,-.1 1,0 1,0 1,-.1 1,0 1,.2 1,-.2 1,0 1,-.2 1,.1 1,.1 1,-.2 1,0 1,0 1,-.1 1,.1 1,-.2 1,0 1,-.1 1,.2 1,-.2 1,0 1,.1 1,-.2 1,0 1,-.1 1,.1 1,-.1 1,.1 1,-.1 1,-.1 1,0 1,0 1,0 1,0 1,0 1,-.1 1,-.1 1,.1 1,-.1 1,.1 1,0 1,-.1 1,0 1,0 1,.2 1,-.2 1,0 1,0 1,0 1,0 1,-.2 1,0 1,.4 1,-.3 1,0 1,0 1,.1 1,-.2 1,.1 1,0 1,.1 1,-.1 1,0 1,-.1 1,-.1 1,.3 1,-.2 1,.1 1,.1 1,-.1 1,0 1,0 1,.1 1,-.1 1,0 1,.1 1,-.1 1,-.1 1,.1 1,0 1,-.1 1,.2 1,0 1,.1 1,-.2 1,.1 1,-.2 1,.1 1,0 1,0 1,0 1,0 1,0 1,0 1,0 1,0 1,.1 1,0 1,0 1,-.2 1,.1 1,0 1,0 1,.1 1,0 1,-.1 1,0 1,.1 1,-.1 1,0 1,.1 1,-.1 1,.1 1,-.1 1,.1 1,-.1 1,-.1 1,.1 1,-.2 1,.2 1,.1 1,-.1 1,0 1,.1 1,-.1 1,.1 1,.1 1,-.1 1,0 1,-.1 1,0 1,0 1,0 1,.1 1,-.2 1,.1 1,.1 1,-.2 1,.1 1,0 1,.1 1,0 1,.1 1,-.1 1,0 1,.1 1,0 1,.1 1,-.2 1,.2 1,-.1 1,.2 1,.1 1,0 1,.1 1,0 1,0 1,.2 1,.1 1,0 1,0 1,0 1,.3 1,-.1 1,0 1,.1 1,.1 1,.1 1,.2 1,0 1,.2 1,0 1,-.1 1,.2 1,.2 1,.1 1,-.2 1,.1 1,.2 1,0 1,0 1,.2 1,0 1,-.1 1,.3 1,.1 1,.1 1,.1 1,0 1,0 1,0 1,0 1,.1 1,.2 1,0 1,.2 1,-.1 1,-.1 1,.2 1,0 1,.1 1,0 1,0 1,.1 1,0 1,.1 1,0 1,.1 1,0 1,.1 1,0 1,0 1,.1 1,0 1,.1 1,0 1,0 1,.1 1,0 1,.1 1,0 1,.1 1,0 1,0 1,.1 1,0 1,.1 1,0 1,0 1,.1 1,0 1,0 1,.1 1,0 1,.1 1,0 1,0 1,.1 1,0 1,.1 1,0 1,0 1,.1 1,0 1,0 1,.1 1,0 1,.1 1,0 1,0 1,.1 1,0 1,.1 1,0 1,0 1,.1 1,0 1,.1 1,0 1,0 1,.1 1,0 1,.1 1,0 1,0 1,.1 1,0 1,.1 1,0 1,0 1,.1 1,0 1,.1 1,0 1,.1 1,0 1,0 1,.1 1,0 1,.1 1,0 1,0 1,.1 1,0 1,.1 1,0 1,0 1,.1 1,0 1,.1 1,0 1,0 1,.1 1,0 1,.1 1,0 1,.1 1,0 1,0 1,.1 1,0 1,.1 1,0 1,0 1,.1 1,0 1,.1 1,0 1,0 1,.1 1,0 1,.1 1,0 1,.1 1,0 1,0 1,.1 1,0 1,.1 1,0 1,0 1,.1 1,0 1,.1 1,0 1,0 1,.1 1,0 1,.1 1,0 1,0 1,.1 1,0 1,.1 1,0 1,0 1,.1 1,0 1,.1 1,0 1,.1 1,0 1,.1 1,0 1,0 1,.1 1,0 1,.1 1,0 1,.1 1,0 1,.1 1,0 1,.1 1,0 1,.1 1,0 1,.1 1,0 1,0 1,.1 1,0 1,.1 1,0 1,.1 1,0 1,.1 1,0 1,.1 1,0 1,0 1,.1 1,0 1,.1 1,0 1,.1 1,0 1,0 1,.1 1,0 1,0 1,.1 1,0 1,.1 1,0 1,0 1,.1 1,0 1,0 1,0 1,.1 1,0 1,0 1,.1 1,0 1,0 1,0 1,0 1,.1 1,0 1,0 1,0 1,0 1,0 1,.1 1,0 1,0 1,0 1,0 1,0 1,.1 1,0 1,0 1,0 1,0 1,0 1,0 1,.1 1,0 1,0 1,0 1,0 1,0 1,0 1,.1 1,0 1,0 1,0 1,0 1,0 1,0 1,.1 1,0 1,0 1,0 1,0 1,0 1,0 1,0 1,0 1,0 1,.1 1,0 1,0 1,0 1,0 1,0 1,0 1,0 1,0 1,0 1,0 1,0 1,.1 1,0 1,0 1,0 1,0 1,0 1,0 1,0 1,0 1,0 1,0 1,0 1,0 1,0 1,0 1,0 1,0 1,0 1,0 1,0 1,0 1,0 1,0 1,0 1,0 1,0 1,0 1,0 1,-.1 1,0 1,0 1,0 1,0 1,0 1,0 1,0 1,0 1,0 1,-.1 1,0 1,0 1,0 1,0 1,0 1,-.1 1,0 1,0 1,0 1,0 1,0 1,-.1 1,0 1,0 1,0 1,0 1,-.1 1,0 1,0 1,0 1,0 1,-.1 1,0 1,0 1,0 1,0 1,-.1 1,0 1,0 1,0 1,-.1 1,0 1,0 1,-.1 1,0 1,0 1,-.1 1,0 1,-.1 1,0 1,-.1 1,0 1,-.1 1,0 1,-.1 1,0 1,-.1 1,-.1 1,0 1,-.1 1,0 1,-.1 1,0 1,-.1 1,-.1 1,0 1,-.1 1,0 1,-.1 1,0 1,-.1 1,0 1,-.1 1,0 1,-.1 1,0 1,-.1 1,0 1,-.1 1,0 1,-.1 1,0 1,-.1 1,0 1,-.1 1,0 1,-.1 1,-.1 1,0 1,-.1 1,-.1 1,0 1,-.1 1,-.1 1,0 1,-.1 1,-.1 1,-.1 1,0 1,-.1 1,-.1 1,-.1 1,-.1 1,-.2 1,-.1 1,-.1 1,-.2 1,-.1 1,-.2 1,-.2 1,-.2 1,-.4 1,-.4 1,-.5 1,-.5 1,-.6 1,-.6 1,-.6 1,-.7 1,-.6 1,-.6 1,-.7 1,-.7 1,-.8 1,-.8 1,-.8 1,-.9 1,-1 1,-1 1,-1.1 1,-1.1 1,-1.3 1,-1.5 1,-1.6 1,-1.9 1,-1.9 1,-2 1,-2 1,-2 1,-2.1 1,-2.1 1,-2.1 1,-2.2 1,-2.3 1,-2.3 1,-2.4 1,-2.5 1,-2.6 1,-2.6 1,-2.8 1,-3 1,-3.3 1,-3.7 1,-4 1,-4.3 1,-4.2 1,-4.1 1,-4.2 1,-4.4 1,-4.5 1,-4.8 1,-5.1 1,-5.3 1,-5.4 1,-5.5 1,-5.7 1,-5.6 1,-5.6 1,-5.7 1,-5.7 1,-5.2 1,-4.6 1,-4 1,-3.8 1,-3.3 1,-2.5 1,-1.8 1,-1.6 1,-1.4 1,-1.2 1,-.8 1,-.3 1,.2 1,.7 1,1.1 1,1.4 1,1.6 1,1.8 1,3 1,4.2 1,4.8 1,4.8 1,5.3 1,5.8 1,6 1,6.2 1,6.4 1,6.5 1,6.5 1,6.4 1,6.5 1,6.3 1,6.3 1,6.3 1,6 1,5.5 1,4.9 1,4.7 1,4.2 1,3.8 1,3.1 1,2.7 1,2.4 1,2.3 1,2.2 1,2.2 1,2.4 1,2.6 1,2.8 1,2.7 1,2.5 1,2.3 1,1.8 1,1.7 1,1.6 1,1.5 1,1.4 1,1.3 1,1.1 1,1.1 1,.9 1,.9 1,.8 1,.8 1,.8 1,.8 1,.7 1,.7 1,.7 1,.6 1,.6 1,.5 1,.5 1,.4 1,.3 1,.3 1,.2 1,.2 1,.1 1,.2 1,.1 1,.1 1,.1 1,0 1,.1 1,.1 1,.1 1,.1 1,0 1,.1 1,.1 1,.2 1,.1 1,.1 1,.2 1,.2 1,.2 1,.2 1,.2 1,.2 1,.2 1,.2 1,.2 1,.2 1,.2 1,.2 1,.2 1,.2 1,.2 1,.2 1,.2 1,.1 1,.1 1,.2 1,.1 1,.1 1,0 1,.1 1,0 1,0 1,0 1,.1 1,0 1,0 1,0 1,.1 1,0 1,0 1,0 1,0 1,.1 1,0 1,0 1,0 1,0 1,0 1,.1 1,0 1,0 1,0 1,0 1,0 1,0 1,0 1,.1 1,0 1,0 1,0 1,0 1,0 1,0 1,0 1,0 1,0 1,.1 1,0 1,0 1,0 1,0 1,0 1,0 1,0 1,0 1,0 1,.1 1,0 1,0 1,0 1,0 1,0 1,0 1,.1 1,0 1,0 1,0 1,0 1,0 1,.1 1,0 1,0 1,0 1,0 1,0 1,.1 1,0 1,0 1,0 1,0 1,.1 1,0 1,0 1,0 1,0 1,.1 1,0 1,0 1,0 1,0 1,.1 1,0 1,0 1,0 1,0 1,.1 1,0 1,0 1,0 1,.1 1,0 1,0 1,0 1,0 1,.1 1,0 1,0 1,0 1,.1 1,0 1,0 1,0 1,0 1,.1 1,0 1,0 1,0 1,0 1,.1 1,0 1,0 1,0 1,.1 1,0 1,0 1,0 1,0 1,.1 1,0 1,0 1,0 1,0 1,.1 1,0 1,0 1,0 1,0 1,0 1,.1 1,0 1,0 1,0 1,0 1,.1 1,0 1,0 1,0 1,0 1,.1 1,0 1,0 1,0 1,0 1,0 1,.1 1,0 1,0 1,0 1,0 1,.1 1,0 1,0 1,0 1,0 1,0 1,.1 1,0 1,0 1,0 1,0 1,.1 1,0 1,0 1,0 1,0 1,0 1,.1 1,0 1,0 1,0 1,0 1,0 1,.1 1,0 1,0 1,0 1,0 1,0 1,.1 1,0 1,0 1,0 1,0 1,0 1,.1 1,0 1,0 1,0 1,0 1,0 1,.1 1,0 1,0 1,0 1,0 1,0 1,0 1,.1 1,0 1,0 1,0 1,0 1,0 1,.1 1,0 1,0 1,0 1,0 1,0 1,.1 1,0 1,0 1,0 1,0 1,.1 1,0 1,0 1,0 1,0 1,0 1,.1 1,0 1,0 1,0 1,0 1,0 1,.1 1,0 1,0 1,0 1,0 1,0 1,.1 1,0 1,0 1,0 1,0 1,0 1,.1 1,0 1,0 1,0 1,0 1,0 1,0 1,0 1,.1 1,0 1,0 1,0 1,0 1,0 1,0 1,0 1,0 1,0 1,.1 1,0 1,0 1,0 1,0 1,0 1,0 1,0 1,0 1,0 1,0 1,0 1,0 1,0 1,0 1,0 1,0 1,0 1,0 1,0 1,0 1,0 1,0 1,0 1,0 1,0 1,0 1,0 1,0 1,0 1,0 1,0 1,0 1,0 1,0 1,0 1,0 1,0 1,0 1,0 1,0 1,0 1,0 1,0 1,0 1,0 1,0 1,0 1,0 1,0 1,0 1,0 1,0 1,0 1,0 1,0 1,0 1,0 1,0 1,0 1,0 1,0 1,0 1,0 1,0 1,0 1,0 1,0 1,0 1,0 1,0 1,0 1,0 1,0 1,0 1,0 1,0 1,0 1,0 1,0 1,0 1,0 1,0 1,0 1,0 1,0 1,0 1,0 1,0 1,0 1,0 1,0 1,0 1,0 1,0 1,0 1,0 1,0 1,0 1,0 1,0 1,0 1,0 1,0 1,0 1,0 1,0 1,0 1,0 1,0 1,0 1,0 1,0 1,0 1,0 1,0 1,0 1,0 1,0 1,0 1,0 1,0 1,0 1,0 1,0 1,0 1,0 1,0 1,0 1,0 1,0 1,0 1,0 1,0 1,0 1,0 1,0 1,0 1,0 1,0 1,0 1,0 1,0 1,0 1,0 1,0 1,0 1,0 1,0 1,0 1,0 1,0 1,0 1,0 1,0 1,0 1,0 1,0 1,0 1,0 1,0 1,0 1,0 1,0 1,0 1,0 1,0 1,0 1,0 1,0 1,0 1,0 1,0 1,0 1,0 1,0 1,0 1,0 1,0 1,0 1,0 1,0 1,0 1,0 1,0 1,0 1,0 1,0 1,0 1,0 1,0 1,0 1,0 1,0 1,0 1,0 1,.1 1,0 1,0 1,0 1,0 1,0 1,.1 1,0 1,0 1,0 1,0 1,0 1,-.1 1,-.3 1,-.7 1,-.8 1,-.9 1,-.8 1,-.8 1,-.5 1,-.5 1,-.5 1,-.5 1,-.4 1,-.4 1,-.5 1,-.4 1,-.4 1,-.4 1,-.5 1,-.4 1,-.5 1,-.5 1,-.6 1,-.6 1,-.6 1,-.7 1,-.7 1,-.7 1,-.7 1,-.7 1,-.7 1,-.6 1,-.6 1,-.6 1,-.4 1,-.4 1,-.3 1,-.3 1,-.4 1,-.3 1,-.3 1,-.2 1,-.2 1,-.1 1,-.1 1,0 1,.1 1,.2 1,.2 1,.3 1,.3 1,.3 1,.3 1,.4 1,.4 1,.3 1,.3 1,.4 1,.4 1,.3 1,.5 1,.4 1,.4 1,.5 1,.4 1,.5 1,.4 1,.5 1,.4 1,.5 1,.5 1,.6 1,.6 1,.6 1,.5 1,.4 1,.2 1,.1 1,0 1,.1 1,0 1,.1 1,0 1,.1 1,0 1,0 1,.1 1,0 1,0 1,.1 1,0 1,0 1,0 1,.1 1,0 1,0 1,0 1,0 1,.1 1,0 1,0 1,0 1,0 1,0 1,0 1,0 1,0 1,0 1,0 1,-.1 1,0 1,-.1 1,-.1 1,-.1 1,-.1 1,0 1,-.1 1,-.1 1,-.1 1,0 1,0 1,0 1,0 1,.1 1,0 1,.1 1,.1 1,.1 1,.1 1,.1 1,.1 1,.2 1,.1 1,.2 1,.1 1,.2 1,.1 1,.2 1,.2 1,.1 1,.2 1,.2 1,.1 1,.2 1,.1 1,.2 1,.1 1,.2 1,.1 1,.1 1,.1 1,.1 1,.1 1,.1 1,.1 1,.1 1,.1 1,.1 1,.1 1,0 1,.1 1,.1 1,.1 1,.1 1,.1 1,0 1,.1 1,.1 1,.1 1,0 1,.1 1,.1 1,.1 1,0 1,.1 1,.1 1,0 1,.1 1,.1 1,0 1,.1 1,.1 1,0 1,.1 1,0 1,.1 1,.1 1,0 1,.1 1,.1 1,0 1,.1 1,0 1,.1 1,.1 1,0 1,.1 1,0 1,.1 1,0 1,.1 1,.1 1,0 1,.1 1,0 1,.1 1,0 1,.1 1,0 1,.1 1,0 1,0 1,.1 1,0 1,.1 1,0 1,0 1,.1 1,0 1,0 1,0 1,.1 1,0 1,0 1,0 1,0 1,.1 1,0 1,0 1,0 1,0 1,0 1,.1 1,0 1,0 1,0 1,0 1,0 1,.1 1,0 1,0 1,0 1,0 1,0 1,.1 1,0 1,0 1,0 1,0 1,0 1,0 1,0 1,.1 1,0 1,0 1,0 1,0 1,0 1,0 1,0 1,.1 1,0 1,0 1,0 1,0 1,0 1,0 1,0 1,0 1,0 1,0 1,0 1,.1 1,0 1,0 1,0 1,0 1,0 1,0 1,0 1,0 1,0 1,0 1,0 1,0 1,0 1,0 1,0 1,0 1,0 1,0 1,0 1,0 1,0 1,0 1,0 1,0 1,0 1,-.1 1,0 1,0 1,0 1,0 1,0 1,0 1,0 1,0 1,-.1 1,0 1,0 1,0 1,0 1,0 1,-.1 1,0 1,0 1,0 1,0 1,0 1,-.1 1,0 1,0 1,0 1,0 1,0 1,-.1 1,0 1,0 1,0 1,0 1,0 1,0 1,-.1 1,0 1,0 1,0 1,0 1,0 1,0 1,0 1,-.1 1,0 1,0 1,0 1,0 1,0 1,0 1,0 1,0 1,0 1,0 1,0 1,0 1,0 1,0 1,0 1,0 1,0 1,0 1,0 1,0 1,0 1,0 1,0 1,0 1,0 1,0 1,0 1,0 1,0 1,0 1,0 1,0 1,0 1,0 1,0 1,0 1,0 1,0 1,0 1,0 1,0 1,0 1,0 1,0 1,0 1,0 1,0 1,0 1,0 1,0 1,0 1,0 1,0 1,0 1,0 1,0 1,0 1,0 1,0 1,0 1,0 1,0 1,.1 1,0 1,0 1,.1 1,0 1,0 1,.1 1,0 1,.1 1,0 1,.1 1,0 1,.1 1,0 1,.1 1,0 1,.1 1,0 1,.1 1,0 1,.1 1,0 1,0 1,.1 1,0 1,.1 1,0 1,0 1,.1 1,0 1,0 1,.1 1,0 1,0 1,0 1,0 1,0 1,0 1,0 1,0 1,0 1,0 1,0 1,0 1,0 1,0 1,0 1,0 1,0 1,0 1,0 1,0 1,0 1,0 1,0 1,0 1,0 1,0 1,0 1,0 1,0 1,0 1,0 1,0 1,0 1,0 1,0 1,0 1,0 1,0 1,0 1,0 1,0 1,0 1,0 1,0 1,0 1,0 1,0 1,0 1,0 1,0 1,0 1,0 1,0 1,0 1,0 1,0 1,0 1,0 1,0 1,0 1,0 1,0 1,0 1,0 1,0 1,0 1,0 1,0 1,0 1,0 1,0 1,0 1,0 1,0 1,0 1,0 1,0 1,-.1 1,0 1,0 1,0 1,-.1 1,0 1,-.1 1,0 1,-.1 1,0 1,-.1 1,0 1,-.1 1,0 1,-.1 1,-.1 1,0 1,-.1 1,-.1 1,0 1,-.1 1,-.1 1,0 1,-.1 1,-.1 1,0 1,-.1 1,-.1 1,0 1,-.1 1,-.1 1,0 1,-.1 1,-.1 1,-.1 1,-.1 1,-.2 1,-.1 1,-.1 1,-.1 1,-.1 1,-.2 1,-.1 1,-.1 1,-.1 1,-.2 1,-.1 1,-.1 1,-.1 1,-.1 1,-.1 1,-.1 1,-.1 1,-.1 1,-.1 1,0 1,-.1 1,0 1,-.1 1,0 1,0 1,0 1,0 1,0 1,.1 1,0 1,.1 1,0 1,.1 1,0 1,.1 1,.1 1,.1 1,0 1,.1 1,.1 1,.2 1,.2 1,.2 1,.2 1,.3 1,.2 1,.3 1,.3 1,.3 1,.3 1,.3 1,.3 1,.3 1,.2 1,.3 1,.2 1,.2 1,.1 1,.2 1,.1 1,.1 1,0 1,.1 1,.1 1,.1 1,.1 1,0 1,.1 1,0 1,.1 1,0 1,.1 1,0 1,.1 1,0 1,0 1,0 1,0 1,0 1,0 1,0 1,.1 1,0 1,0 1,0 1,0 1,0 1,0 1,0 1,0 1,0 1,0 1,0 1,.1 1,0 1,0 1,0 1,0 1,0 1,0 1,0 1,0 1,0 1,0 1,0 1,0 1,0 1,.1 1,0 1,0 1,0 1,0 1,0 1,0 1,0 1,0 1,0 1,0 1,0 1,0 1,0 1,0 1,0 1,.1 1,0 1,0 1,0 1,0 1,0 1,0 1,0 1,0 1,0 1,0 1,0 1,0 1,0 1,0 1,0 1,0 1,0 1,0 1,0 1,0 1,0 1,.1 1,0 1,0 1,0 1,0 1,0 1,0 1,0 1,0 1,0 1,0 1,0 1,0 1,0 1,0 1,0 1,0 1,0 1,0 1,0 1,0 1,0 1,0 1,0 1,0 1,0 1,0 1,0 1,0 1,0 1,0 1,0 1,0 1,.1 1,0 1,0 1,0 1,0 1,0 1,0 1,0 1,0 1,0 1,0 1,0 1,0 1,0 1,0 1,0 1,0 1,0 1,0 1,0 1,0 1,0 1,0 1,0 1,0 1,0 1,0 1,0 1,0 1,0 1,0 1,0 1,0 1,0 1,0 1,0 1,0 1,0 1,0 1,0 1,0 1,0 1,0 1,0 1,0 1,0 1,0 1,0 1,0 1,0 1,0 1,0 1,0 1,0 1,0"/>
<path stroke="#df9e00" d="M43,478.3l1,0 1,-.1 1,-.2 1,.4 1,-1 1,.7 1,.1 1,-.2 1,.5 1,-.2 1,-.2 1,-.2 1,.4 1,-.6 1,0 1,.4 1,-.1 1,.4 1,-.8 1,-.5 1,.7 1,.2 1,-.5 1,.5 1,0 1,-.8 1,0 1,-.2 1,.5 1,0 1,-.1 1,-.6 1,.1 1,-.2 1,-.1 1,0 1,-.1 1,.4 1,.2 1,0 1,-.2 1,-.3 1,.2 1,.1 1,-.3 1,.1 1,-.1 1,-.1 1,.1 1,-.4 1,.6 1,-.8 1,.6 1,-.6 1,.8 1,-.2 1,-.6 1,.1 1,-.2 1,.3 1,.1 1,.6 1,-1.3 1,.8 1,-.6 1,.2 1,.2 1,-.2 1,-.1 1,-.2 1,0 1,0 1,.3 1,-.9 1,.3 1,-.3 1,.1 1,0 1,.5 1,.3 1,-.3 1,-.8 1,.4 1,-.4 1,.4 1,.2 1,-.2 1,0 1,-.3 1,-.6 1,0 1,.5 1,.2 1,.2 1,-.5 1,.1 1,.1 1,.2 1,-.3 1,-.3 1,.6 1,-.2 1,0 1,-.5 1,.4 1,-.5 1,-.1 1,.5 1,0 1,.3 1,.3 1,-.5 1,.6 1,-.7 1,.4 1,-.6 1,.4 1,-.1 1,0 1,.3 1,-.8 1,.7 1,-.3 1,.3 1,.1 1,-.2 1,0 1,-.3 1,.6 1,-.4 1,.4 1,-.6 1,.9 1,-.7 1,.7 1,-.5 1,.3 1,-.2 1,.3 1,-.2 1,.4 1,-.2 1,.1 1,.3 1,-.7 1,.6 1,-.4 1,-.4 1,.6 1,-.2 1,.6 1,-.6 1,.2 1,.1 1,-.7 1,.8 1,-.4 1,.8 1,.1 1,-.5 1,-.4 1,.6 1,.1 1,.2 1,-.3 1,-.2 1,.4 1,-.1 1,.9 1,-.7 1,.1 1,.2 1,-.2 1,.3 1,.2 1,0 1,.1 1,.6 1,-.2 1,-.5 1,.4 1,.5 1,-.4 1,.3 1,.1 1,.3 1,-.2 1,.1 1,-.1 1,.5 1,-.3 1,.9 1,-.5 1,.1 1,.3 1,-.1 1,.1 1,0 1,-.1 1,0 1,.2 1,.6 1,-.5 1,.2 1,0 1,.5 1,.4 1,-.8 1,.5 1,0 1,-.1 1,.4 1,-.5 1,.7 1,-.1 1,-.3 1,.9 1,-.2 1,.2 1,-.7 1,.4 1,0 1,.4 1,.3 1,-.9 1,.7 1,0 1,.4 1,-.2 1,-.3 1,.4 1,-.2 1,.2 1,.3 1,-.1 1,.3 1,-.5 1,1.3 1,-.3 1,-.1 1,-.5 1,-.2 1,.5 1,.2 1,.9 1,-.2 1,-.5 1,.6 1,0 1,-.3 1,.5 1,-.2 1,-.3 1,-.1 1,.4 1,.4 1,-.6 1,0 1,.7 1,-.9 1,1.4 1,-.6 1,.4 1,.4 1,-1 1,.2 1,1.1 1,-.7 1,.1 1,.1 1,.3 1,.2 1,-.4 1,-.1 1,.2 1,.1 1,.4 1,-.3 1,.5 1,-.7 1,.4 1,.5 1,-.1 1,-.3 1,-.3 1,.1 1,.2 1,.2 1,-.2 1,-.3 1,.3 1,.4 1,.1 1,-.6 1,.4 1,-.4 1,.4 1,1.3 1,-1.1 1,0 1,-.1 1,-.1 1,-.2 1,.6 1,0 1,.5 1,-.9 1,.7 1,.3 1,-1 1,.9 1,-.7 1,.7 1,.3 1,-.4 1,.1 1,-.2 1,.3 1,.3 1,-.4 1,.1 1,.2 1,.2 1,-.8 1,.6 1,-.2 1,.4 1,.2 1,-.2 1,.4 1,-.7 1,.2 1,-.1 1,.3 1,.1 1,-.1 1,-.3 1,.4 1,-.1 1,.4 1,-.2 1,.4 1,-.2 1,-.6 1,.6 1,-.4 1,.8 1,.2 1,-.5 1,.2 1,-.5 1,-.2 1,.5 1,.2 1,-.4 1,.5 1,.1 1,.2 1,.3 1,-.2 1,-.3 1,.2 1,.2 1,-.5 1,.8 1,-.1 1,-.4 1,0 1,1.4 1,-.9 1,.1 1,.3 1,-.3 1,-.2 1,.2 1,-.4 1,.5 1,-.7 1,.7 1,.1 1,-.7 1,1.1 1,-.9 1,.7 1,-.4 1,.3 1,-.3 1,1 1,-.4 1,.3 1,-.3 1,0 1,-.1 1,-.1 1,.3 1,-.1 1,-.1 1,-.3 1,.3 1,.3 1,-.3 1,.3 1,-.1 1,-.2 1,0 1,.1 1,.2 1,0 1,.5 1,-.7 1,-.2 1,.8 1,-.3 1,.2 1,.8 1,-.3 1,-.2 1,.1 1,-.2 1,.3 1,-.5 1,0 1,.1 1,.7 1,0 1,-.6 1,.5 1,-.3 1,.4 1,-.4 1,.4 1,-.3 1,0 1,.1 1,.1 1,-.2 1,-.3 1,1 1,-.6 1,-.4 1,-.1 1,-.2 1,.7 1,.7 1,-.9 1,.4 1,-.4 1,.9 1,-.2 1,0 1,.4 1,.1 1,-.2 1,-.5 1,-.2 1,.1 1,-.2 1,1.2 1,-.6 1,.1 1,0 1,.6 1,-.7 1,.5 1,-.2 1,-.1 1,-.6 1,.9 1,-.5 1,.1 1,.3 1,0 1,.3 1,-.5 1,.2 1,.1 1,-.1 1,.3 1,-.3 1,.5 1,-.6 1,-.2 1,.4 1,.4 1,-.5 1,0 1,.1 1,.2 1,-.1 1,.2 1,-.6 1,1 1,-.3 1,-.4 1,.7 1,-.3 1,.4 1,-.8 1,.9 1,-.5 1,-.6 1,.8 1,-.3 1,-.2 1,.3 1,-.5 1,.8 1,-.2 1,0 1,.5 1,-.4 1,-.2 1,-.1 1,.3 1,.4 1,-.5 1,-.1 1,.6 1,-.3 1,0 1,.7 1,-1 1,.4 1,-.6 1,.5 1,.3 1,.2 1,-.8 1,.7 1,0 1,-.3 1,.8 1,-.7 1,-.3 1,.4 1,-.7 1,1.1 1,-.2 1,-.4 1,.3 1,0 1,.4 1,-.8 1,-.2 1,-.2 1,.5 1,-.4 1,.5 1,.1 1,-.2 1,-.2 1,.7 1,-.4 1,.1 1,.2 1,-.7 1,.1 1,1.1 1,-.8 1,-.3 1,.2 1,-.1 1,-.2 1,.3 1,.1 1,0 1,.2 1,-.7 1,.1 1,.7 1,-.4 1,.5 1,-.3 1,-.5 1,.6 1,-.5 1,.4 1,.3 1,.3 1,-.7 1,.2 1,-.1 1,.2 1,-1.1 1,.7 1,.2 1,.1 1,-.4 1,.5 1,0 1,-.3 1,-.1 1,-.1 1,.1 1,.3 1,.1 1,-.7 1,-.1 1,-.1 1,.5 1,-.3 1,0 1,-.1 1,-.2 1,-.5 1,-.6 1,-.3 1,-.3 1,-.5 1,-.8 1,-.7 1,-.3 1,-1.6 1,-1 1,-1.5 1,-1.7 1,-1.8 1,-1.3 1,-1.7 1,-1.3 1,-2.7 1,-1.9 1,-2 1,-2.7 1,-2.5 1,-2.6 1,-3.6 1,-2.7 1,-3.5 1,-3.6 1,-4.5 1,-5.2 1,-5.7 1,-6.2 1,-6.4 1,-6.6 1,-6.6 1,-6 1,-6.1 1,-5.9 1,-6.1 1,-6 1,-6.2 1,-6.1 1,-6.1 1,-5.2 1,-5.1 1,-5.1 1,-4.9 1,-4.8 1,-4.9 1,-5 1,-4.8 1,-5.4 1,-4.8 1,-5 1,-5.2 1,-5.2 1,-5.2 1,-4.8 1,-4.3 1,-4.3 1,-4.4 1,-3.7 1,-3.2 1,-2.9 1,-2.6 1,-1.9 1,-1.3 1,-1.3 1,0 1,.3 1,.9 1,1.3 1,1.9 1,3.4 1,3.8 1,3.9 1,4.3 1,5 1,5.4 1,5.6 1,5.9 1,6 1,6.1 1,6.1 1,6.3 1,5.9 1,6 1,5.4 1,5.5 1,5 1,5.2 1,5.5 1,5.2 1,5.1 1,5.5 1,5.1 1,5.7 1,6.1 1,6.8 1,6.5 1,6.3 1,5.7 1,6.1 1,5.5 1,5.4 1,4.9 1,4.6 1,4.6 1,4.3 1,3.7 1,3.3 1,3.1 1,3 1,2.7 1,3.1 1,2.1 1,1.8 1,2.5 1,1.7 1,1.3 1,3.2 1,1.6 1,.6 1,1.3 1,1.3 1,.8 1,.8 1,.8 1,.7 1,.3 1,.5 1,0 1,0 1,.4 1,-.3 1,1 1,-.8 1,.6 1,.2 1,.1 1,0 1,.4 1,-.6 1,.3 1,.2 1,-.2 1,0 1,.7 1,-.6 1,.1 1,.1 1,.1 1,.1 1,-.1 1,.2 1,0 1,.1 1,.3 1,-.6 1,.8 1,-.6 1,.4 1,-.2 1,-.1 1,-.4 1,1.1 1,-.7 1,0 1,.6 1,-.2 1,0 1,0 1,.1 1,0 1,0 1,.1 1,0 1,.1 1,0 1,0 1,.1 1,0 1,.1 1,0 1,0 1,.1 1,0 1,.1 1,0 1,0 1,.1 1,0 1,.1 1,0 1,0 1,.1 1,0 1,.1 1,0 1,0 1,.1 1,0 1,0 1,.1 1,0 1,.1 1,0 1,0 1,.1 1,0 1,0 1,.1 1,0 1,0 1,.1 1,0 1,.1 1,0 1,0 1,0 1,.1 1,0 1,0 1,.1 1,0 1,0 1,.1 1,0 1,0 1,0 1,.1 1,0 1,0 1,.1 1,0 1,0 1,0 1,.1 1,0 1,0 1,0 1,0 1,.1 1,0 1,0 1,0 1,.1 1,0 1,0 1,0 1,.1 1,0 1,0 1,0 1,0 1,.1 1,0 1,0 1,0 1,0 1,.1 1,0 1,0 1,0 1,0 1,.1 1,0 1,0 1,0 1,0 1,.1 1,0 1,0 1,0 1,0 1,.1 1,0 1,0 1,0 1,0 1,.1 1,0 1,0 1,0 1,0 1,0 1,.1 1,0 1,0 1,0 1,0 1,.1 1,0 1,0 1,0 1,0 1,0 1,.1 1,0 1,0 1,0 1,0 1,0 1,.1 1,0 1,0 1,0 1,0 1,0 1,.1 1,0 1,0 1,0 1,0 1,0 1,.1 1,0 1,0 1,0 1,0 1,.1 1,0 1,0 1,0 1,0 1,0 1,.1 1,0 1,0 1,0 1,0 1,.1 1,0 1,0 1,0 1,0 1,0 1,.1 1,0 1,0 1,0 1,0 1,.1 1,0 1,0 1,0 1,0 1,.1 1,0 1,0 1,0 1,.1 1,0 1,0 1,0 1,0 1,.1 1,0 1,0 1,0 1,0 1,.1 1,0 1,0 1,0 1,.1 1,0 1,0 1,0 1,0 1,.1 1,0 1,0 1,0 1,0 1,.1 1,0 1,0 1,0 1,0 1,0 1,.1 1,0 1,0 1,0 1,0 1,0 1,.1 1,0 1,0 1,0 1,0 1,0 1,0 1,0 1,0 1,.1 1,0 1,0 1,0 1,0 1,0 1,0 1,0 1,0 1,0 1,0 1,0 1,0 1,0 1,0 1,0 1,0 1,0 1,.1 1,0 1,0 1,0 1,0 1,0 1,0 1,0 1,0 1,0 1,0 1,0 1,0 1,0 1,0 1,0 1,0 1,0 1,0 1,0 1,0 1,0 1,0 1,0 1,0 1,0 1,0 1,0 1,0 1,0 1,0 1,0 1,0 1,0 1,0 1,0 1,0 1,0 1,0 1,0 1,0 1,0 1,0 1,0 1,0 1,0 1,0 1,0 1,0 1,0 1,0 1,0 1,0 1,0 1,0 1,0 1,0 1,0 1,0 1,0 1,0 1,.1 1,0 1,0 1,0 1,0 1,0 1,0 1,0 1,0 1,0 1,0 1,0 1,0 1,0 1,0 1,0 1,0 1,0 1,0 1,0 1,0 1,0 1,0 1,.1 1,0 1,0 1,0 1,0 1,0 1,0 1,.1 1,.3 1,.3 1,.2 1,.1 1,0 1,0 1,0 1,0 1,0 1,0 1,0 1,0 1,0 1,0 1,0 1,0 1,0 1,0 1,0 1,0 1,0 1,0 1,0 1,-.1 1,0 1,0 1,0 1,0 1,0 1,0 1,0 1,0 1,0 1,0 1,0 1,0 1,0 1,0 1,0 1,-.1 1,0 1,0 1,0 1,0 1,0 1,0 1,0 1,0 1,0 1,0 1,0 1,-.1 1,0 1,0 1,0 1,0 1,0 1,0 1,0 1,0 1,0 1,0 1,0 1,-.1 1,0 1,0 1,0 1,0 1,0 1,0 1,0 1,0 1,0 1,0 1,-.1 1,0 1,0 1,0 1,0 1,0 1,0 1,0 1,0 1,0 1,0 1,0 1,0 1,-.1 1,0 1,0 1,0 1,0 1,0 1,0 1,0 1,0 1,0 1,0 1,-.1 1,0 1,0 1,0 1,0 1,0 1,0 1,-.1 1,0 1,0 1,0 1,0 1,-.1 1,0 1,0 1,0 1,0 1,-.1 1,0 1,0 1,-.1 1,0 1,0 1,0 1,-.1 1,0 1,0 1,-.1 1,0 1,-.1 1,0 1,0 1,-.1 1,0 1,-.1 1,-.1 1,-.3 1,-.5 1,-.6 1,-.7 1,-.7 1,-.7 1,-.5 1,-.5 1,-.5 1,-.5 1,-.5 1,-.5 1,-.4 1,-.5 1,-.5 1,-.5 1,-.4 1,-.5 1,-.5 1,-.5 1,-.5 1,-.6 1,-.5 1,-.6 1,-.6 1,-.6 1,-.5 1,-.6 1,-.6 1,-.5 1,-.5 1,-.4 1,-.4 1,-.4 1,-.3 1,-.4 1,-.3 1,-.3 1,-.3 1,-.3 1,-.1 1,-.1 1,0 1,.1 1,.1 1,.1 1,.2 1,.2 1,.3 1,.2 1,.3 1,.3 1,.2 1,.3 1,.3 1,.4 1,.4 1,.4 1,.5 1,.5 1,.5 1,.5 1,.5 1,.6 1,.5 1,.4 1,.5 1,.4 1,.4 1,.5 1,.4 1,.4 1,.3 1,.3 1,.1 1,0 1,.1 1,0 1,.1 1,0 1,0 1,0 1,.1 1,0 1,0 1,0 1,0 1,0 1,.1 1,0 1,0 1,0 1,0 1,0 1,0 1,0 1,0 1,.1 1,0 1,0 1,0 1,0 1,0 1,.1 1,0 1,0 1,0 1,.1 1,0 1,0 1,0 1,.1 1,0 1,0 1,.1 1,0 1,0 1,.1 1,0 1,0 1,.1 1,0 1,.1 1,0 1,.1 1,0 1,.1 1,0 1,.1 1,0 1,.1 1,0 1,.1 1,.1 1,.1 1,.1 1,.1 1,.1 1,.1 1,.2 1,.1 1,.2 1,.2 1,.1 1,.2 1,.1 1,.2 1,.1 1,.2 1,.1 1,.1 1,.1 1,.1 1,.1 1,.1 1,0 1,.1 1,.1 1,.1 1,0 1,.1 1,.1 1,0 1,.1 1,0 1,.1 1,.1 1,0 1,.1 1,0 1,.1 1,0 1,.1 1,.1 1,0 1,.1 1,0 1,0 1,.1 1,0 1,.1 1,0 1,.1 1,0 1,.1 1,0 1,.1 1,0 1,.1 1,0 1,.1 1,0 1,.1 1,0 1,.1 1,0 1,.1 1,0 1,.1 1,0 1,.1 1,0 1,.1 1,.1 1,0 1,.1 1,0 1,.1 1,.1 1,0 1,.1 1,.1 1,0 1,.1 1,.1 1,0 1,.1 1,.1 1,0 1,.1 1,0 1,.1 1,.1 1,0 1,.1 1,0 1,.1 1,.1 1,0 1,.1 1,0 1,.1 1,0 1,0 1,.1 1,0 1,.1 1,0 1,0 1,.1 1,0 1,0 1,0 1,.1 1,0 1,0 1,0 1,0 1,0 1,0 1,0 1,0 1,0 1,0 1,0 1,0 1,0 1,0 1,0 1,0 1,0 1,0 1,0 1,0 1,0 1,0 1,0 1,0 1,0 1,0 1,0 1,0 1,0 1,0 1,0 1,0 1,0 1,0 1,0 1,0 1,0 1,0 1,0 1,0 1,0 1,0 1,0 1,0 1,0 1,0 1,0 1,0 1,0 1,0 1,0 1,0 1,0 1,0 1,0 1,0 1,0 1,0 1,0 1,0 1,0 1,0 1,0 1,0 1,0 1,0 1,0 1,0 1,0 1,0 1,0 1,0 1,0 1,0 1,0 1,0 1,0 1,0 1,0 1,0 1,0 1,0 1,0 1,0 1,0 1,0 1,0 1,0 1,0 1,0 1,0 1,0 1,0 1,0 1,0 1,0 1,0 1,0 1,0 1,0 1,0 1,0 1,0 1,0 1,0 1,0 1,0 1,0 1,0 1,0 1,0 1,0 1,0 1,0 1,0 1,0 1,0 1,0 1,0 1,-.1 1,0 1,-.1 1,-.1 1,-.1 1,-.2 1,-.1 1,-.1 1,-.1 1,-.2 1,-.1 1,-.1 1,-.1 1,0 1,-.1 1,0 1,0 1,0 1,.1 1,0 1,0 1,.1 1,.1 1,0 1,.1 1,.1 1,.1 1,.1 1,.1 1,.1 1,.1 1,.1 1,.1 1,.1 1,.1 1,.1 1,.2 1,.1 1,.1 1,0 1,.1 1,.1 1,.1 1,.1 1,0 1,.1 1,0 1,.1 1,0 1,0 1,0 1,0 1,0 1,0 1,0 1,0 1,0 1,0 1,0 1,0 1,0 1,0 1,0 1,0 1,0 1,0 1,0 1,0 1,0 1,0 1,0 1,0 1,0 1,0 1,0 1,0 1,0 1,0 1,0 1,0 1,0 1,0 1,0 1,0 1,0 1,0 1,0 1,0 1,0 1,0 1,0 1,0 1,0 1,0 1,-.1 1,0 1,0 1,0 1,0 1,0 1,0 1,0 1,0 1,0 1,0 1,0 1,0 1,0 1,0 1,0 1,0 1,0 1,0 1,0 1,0 1,0 1,0 1,0 1,0 1,0 1,0 1,0 1,-.1 1,0 1,0 1,0 1,0 1,0 1,0 1,0 1,0 1,0 1,0 1,0 1,0 1,0 1,0 1,0 1,0 1,0 1,-.1 1,0 1,0 1,0 1,0 1,0 1,0 1,0 1,0 1,0 1,0 1,0 1,0 1,-.1 1,0 1,0 1,0 1,0 1,0 1,0 1,0 1,0 1,-.1 1,0 1,-.1 1,-.1 1,0 1,-.1 1,-.1 1,-.1 1,-.1 1,-.1 1,-.1 1,-.2 1,-.1 1,-.1 1,-.2 1,-.1 1,-.1 1,-.2 1,-.1 1,-.1 1,-.1 1,-.2 1,-.1 1,-.1 1,-.1 1,-.2 1,-.1 1,-.1 1,-.2 1,-.1 1,-.2 1,-.2 1,-.1 1,-.2 1,-.2 1,-.1 1,-.2 1,-.1 1,-.2 1,-.1 1,-.1 1,-.1 1,-.1 1,-.1 1,0 1,0 1,0 1,0 1,.1 1,.1 1,0 1,.1 1,.2 1,.1 1,.1 1,.1 1,.2 1,.1 1,.1 1,.1 1,.2 1,.1 1,.2 1,.2 1,.2 1,.3 1,.2 1,.2 1,.3 1,.2 1,.3 1,.3 1,.2 1,.2 1,.3 1,.2 1,.2 1,.2 1,.2 1,.2 1,.1 1,.1 1,.1 1,.1 1,.1 1,0 1,.1 1,.1 1,0 1,.1 1,.1 1,0 1,.1 1,0 1,.1 1,0 1,.1 1,0 1,.1 1,0 1,0 1,.1 1,0 1,.1 1,0 1,0 1,0 1,.1 1,0 1,0 1,0 1,.1 1,0 1,0 1,0 1,0 1,0 1,0 1,0 1,0 1,0 1,0 1,0 1,0 1,0 1,0 1,0 1,0 1,0 1,0 1,0 1,0 1,0 1,0 1,0 1,0 1,0 1,0 1,0 1,0 1,0 1,0 1,0 1,0 1,0 1,0 1,0 1,0 1,0 1,0 1,0 1,0 1,0 1,0 1,0 1,0 1,0 1,0 1,0 1,0 1,0 1,0 1,0 1,0 1,0 1,0 1,0 1,0 1,0 1,0 1,0 1,0 1,0 1,0 1,0 1,0 1,0 1,0 1,0 1,0 1,0 1,0 1,0 1,0 1,0 1,0 1,0 1,0 1,0 1,0 1,0 1,0 1,0 1,0 1,0 1,0 1,0 1,0 1,0 1,0 1,0 1,0 1,0 1,0 1,0 1,0 1,0 1,0 1,0 1,0 1,0 1,0 1,0 1,0 1,0 1,0 1,0 1,0 1,0 1,0 1,0 1,0 1,0 1,0 1,0 1,0 1,0 1,0 1,0 1,0 1,0 1,0 1,0 1,0 1,0 1,0 1,0 1,0 1,0 1,0 1,0 1,0 1,0 1,0 1,0 1,0 1,0 1,0 1,0 1,0 1,0 1,0 1,0 1,0"/>
</g>
<g fill="none" stroke-linecap="round">
<line x1="858.5" y1="87.5" x2="1009.5" y2="87.5" stroke="#505050" stroke-width="7"/>
<line x1="858.5" y1="174.5" x2="1009.5" y2="174.5" stroke="#006ce0" stroke-width="7"/>
<line x1="858.5" y1="262" x2="1009.5" y2="262" stroke="#c875e2" stroke-width="8"/>
<line x1="1390.5" y1="87.5" x2="1540" y2="87.5" stroke="#ff3e42" stroke-width="7"/>
<line x1="1386" y1="174.5" x2="1536" y2="174.5" stroke="#00ae68" stroke-width="7"/>
<line x1="1389.5" y1="262" x2="1538.5" y2="262" stroke="#df9e00" stroke-width="8"/>
</g>
<text transform="translate(1026.2 112.2) scale(0.9411 1)" font-size="73">h-BN</text>
<text transform="translate(1027.1 198.7) scale(0.9283 1)" font-size="73">0.5 wt% Zn</text>
<text transform="translate(1027.1 286.2) scale(0.9292 1)" font-size="73">0.5 wt% K</text>
<text transform="translate(1558.0 112.2) scale(0.9321 1)" font-size="73">h-BNNS gelatin</text>
<text transform="translate(1556.3 198.7) scale(0.9216 1)" font-size="73">1.0 wt% Zn</text>
<text transform="translate(1560.4 286.2) scale(0.9203 1)" font-size="73">1.0 wt% K</text>
<text transform="translate(630.3 213.4) scale(0.9659 1)" font-size="81">(002)</text>
<text transform="translate(1158.4 437.5) scale(0.9569 1)" font-size="81">(100,101)</text>
<text transform="translate(1768.0 437.5) scale(0.9709 1)" font-size="81">(004)</text>
<text transform="translate(64.8 452.8) scale(1.0477 1)" font-size="78.5">f)</text>
<text transform="translate(60.5 672.3) scale(1.0532 1)" font-size="78.5">e)</text>
<text transform="translate(53.9 906.2) scale(1.0467 1)" font-size="78.5">d)</text>
<text transform="translate(54.9 1127.5) scale(1.0677 1)" font-size="78.5">c)</text>
<text transform="translate(55.6 1259.8) scale(1.0218 1)" font-size="78.5">b)</text>
<text transform="translate(58.2 1445.0) scale(1.0581 1)" font-size="78.5">a)</text>
<text transform="translate(901.8 1850.0) scale(0.9317 1)" font-size="83">Angle 2</text>
<text transform="translate(1164.1 1850.4) scale(1.0514 1)" font-size="81" class="sym">θ</text>
<text transform="translate(43.7 1709.0) scale(0.9400 1)" font-size="84" text-anchor="middle">10</text>
<text transform="translate(446.6 1709.0) scale(0.9400 1)" font-size="84" text-anchor="middle">20</text>
<text transform="translate(850.7 1709.0) scale(0.9400 1)" font-size="84" text-anchor="middle">30</text>
<text transform="translate(1254.8 1709.0) scale(0.9400 1)" font-size="84" text-anchor="middle">40</text>
<text transform="translate(1658.9 1709.0) scale(0.9400 1)" font-size="84" text-anchor="middle">50</text>
<text transform="translate(2063.0 1709.0) scale(0.9400 1)" font-size="84" text-anchor="middle">60</text>
</svg></body></html>
